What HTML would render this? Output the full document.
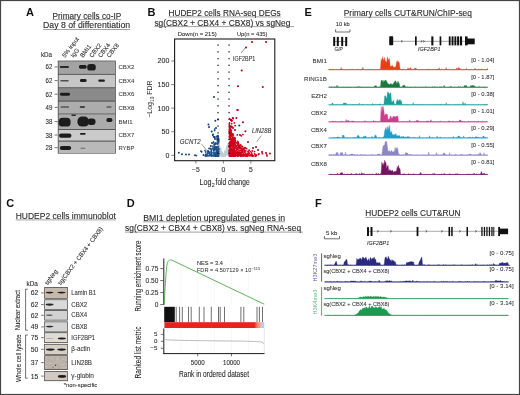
<!DOCTYPE html>
<html><head><meta charset="utf-8"><style>
html,body{margin:0;padding:0;background:#fff;}
#f{position:relative;width:520px;height:395px;overflow:hidden;background:#fff;}
svg{position:absolute;left:0;top:0;will-change:transform;}
text{font-family:"Liberation Sans",sans-serif;}
</style></head><body><div id="f">
<svg width="520" height="395" viewBox="0 0 520 395" font-family="Liberation Sans, sans-serif" fill="#2a2a2a">
<defs>
<filter id="bl" x="-50%" y="-50%" width="200%" height="200%"><feGaussianBlur stdDeviation="0.6"/></filter>
<filter id="bl2" x="-50%" y="-50%" width="200%" height="200%"><feGaussianBlur stdDeviation="0.35"/></filter>
</defs>
<rect x="0" y="0" width="520" height="395" fill="#fff"/>
<text x="26.00" y="16.00" font-size="11" font-weight="bold" fill="#111" >A</text>
<text x="52.60" y="18.50" font-size="8.2" textLength="68.60" lengthAdjust="spacingAndGlyphs" stroke="#2a2a2a" stroke-width="0.102" >Primary cells co-IP</text>
<line x1="52.60" y1="19.60" x2="121.20" y2="19.60" stroke="#555" stroke-width="0.55" />
<text x="43.00" y="28.40" font-size="8.2" textLength="87.10" lengthAdjust="spacingAndGlyphs" stroke="#2a2a2a" stroke-width="0.102" >Day 8 of differentiation</text>
<line x1="43.00" y1="29.50" x2="130.10" y2="29.50" stroke="#555" stroke-width="0.55" />
<text x="40.90" y="56.80" font-size="6.3" textLength="11.20" lengthAdjust="spacingAndGlyphs" stroke="#2a2a2a" stroke-width="0.079" >kDa</text>
<text x="65.00" y="58.00" font-size="6.1" stroke="#2a2a2a" stroke-width="0.076" transform="rotate(-53 65.00 58.00)" >5% input</text>
<text x="73.60" y="58.00" font-size="6.1" stroke="#2a2a2a" stroke-width="0.076" transform="rotate(-53 73.60 58.00)" >IgG</text>
<text x="82.90" y="58.00" font-size="6.1" stroke="#2a2a2a" stroke-width="0.076" transform="rotate(-53 82.90 58.00)" >BMI1</text>
<text x="92.20" y="58.00" font-size="6.1" stroke="#2a2a2a" stroke-width="0.076" transform="rotate(-53 92.20 58.00)" >CBX2</text>
<text x="100.90" y="58.00" font-size="6.1" stroke="#2a2a2a" stroke-width="0.076" transform="rotate(-53 100.90 58.00)" >CBX4</text>
<text x="109.60" y="58.00" font-size="6.1" stroke="#2a2a2a" stroke-width="0.076" transform="rotate(-53 109.60 58.00)" >CBX8</text>
<rect x="57.80" y="60.60" width="58.00" height="93.00" fill="#4c4c4c" />
<rect x="58.60" y="61.30" width="56.50" height="12.60" fill="#a3a3a3" />
<rect x="58.60" y="74.80" width="56.50" height="12.50" fill="#c6c6c6" />
<rect x="58.60" y="88.20" width="56.50" height="12.40" fill="#8a8a8a" />
<rect x="58.60" y="101.60" width="56.50" height="12.00" fill="#acacac" />
<rect x="58.60" y="114.30" width="56.50" height="14.80" fill="#ababab" />
<rect x="58.60" y="130.00" width="56.50" height="10.60" fill="#cacaca" />
<rect x="58.60" y="141.60" width="56.50" height="11.40" fill="#b9b9b9" />
<g filter="url(#bl)" fill="#1e1e1e">
<rect x="59.80" y="65.90" width="9.20" height="2.20" rx="0.99" opacity="0.9"/>
<rect x="78.90" y="65.10" width="7.80" height="3.60" rx="1.62" opacity="1"/>
<rect x="87.20" y="64.00" width="8.60" height="6.60" rx="2.97" opacity="1"/>
<rect x="60.30" y="80.00" width="8.40" height="1.40" rx="0.63" opacity="0.7"/>
<rect x="80.00" y="79.00" width="6.60" height="3.00" rx="1.35" opacity="1"/>
<rect x="98.30" y="79.40" width="6.60" height="2.40" rx="1.08" opacity="1"/>
<rect x="60.00" y="92.70" width="10.00" height="3.00" rx="1.35" opacity="1"/>
<rect x="60.60" y="106.40" width="8.40" height="1.20" rx="0.54" opacity="0.95"/>
<rect x="79.80" y="106.35" width="5.20" height="1.30" rx="0.59" opacity="0.95"/>
<rect x="106.50" y="106.40" width="5.00" height="1.20" rx="0.54" opacity="0.85"/>
<rect x="58.60" y="117.80" width="12.00" height="8.80" rx="3.96" opacity="1"/>
<rect x="71.40" y="114.40" width="4.60" height="1.60" rx="0.72" opacity="0.9"/>
<rect x="77.40" y="116.60" width="11.60" height="10.00" rx="4.50" opacity="1"/>
<rect x="87.50" y="118.60" width="8.00" height="6.40" rx="2.88" opacity="1"/>
<rect x="106.40" y="118.00" width="6.00" height="4.00" rx="1.80" opacity="1"/>
<rect x="59.00" y="133.40" width="12.40" height="4.40" rx="1.98" opacity="1"/>
<rect x="80.00" y="133.10" width="5.60" height="1.60" rx="0.72" opacity="1"/>
<rect x="59.90" y="146.00" width="11.20" height="4.00" rx="1.80" opacity="1"/>
<rect x="80.30" y="147.80" width="5.00" height="1.00" rx="0.45" opacity="0.5"/>
</g>
<text x="45.60" y="69.40" font-size="6.9" textLength="6.80" lengthAdjust="spacingAndGlyphs" stroke="#2a2a2a" stroke-width="0.086" >62</text>
<line x1="54.60" y1="66.90" x2="57.60" y2="66.90" stroke="#333" stroke-width="0.7" />
<text x="118.50" y="69.10" font-size="6.2" textLength="15.80" lengthAdjust="spacingAndGlyphs" fill="#3a3a3a" stroke="#3a3a3a" stroke-width="0.078" >CBX2</text>
<text x="45.60" y="83.10" font-size="6.9" textLength="6.80" lengthAdjust="spacingAndGlyphs" stroke="#2a2a2a" stroke-width="0.086" >62</text>
<line x1="54.60" y1="80.60" x2="57.60" y2="80.60" stroke="#333" stroke-width="0.7" />
<text x="118.50" y="82.80" font-size="6.2" textLength="15.80" lengthAdjust="spacingAndGlyphs" fill="#3a3a3a" stroke="#3a3a3a" stroke-width="0.078" >CBX4</text>
<text x="45.60" y="96.70" font-size="6.9" textLength="6.80" lengthAdjust="spacingAndGlyphs" stroke="#2a2a2a" stroke-width="0.086" >62</text>
<line x1="54.60" y1="94.20" x2="57.60" y2="94.20" stroke="#333" stroke-width="0.7" />
<text x="118.50" y="96.40" font-size="6.2" textLength="15.80" lengthAdjust="spacingAndGlyphs" fill="#3a3a3a" stroke="#3a3a3a" stroke-width="0.078" >CBX6</text>
<text x="45.60" y="109.90" font-size="6.9" textLength="6.80" lengthAdjust="spacingAndGlyphs" stroke="#2a2a2a" stroke-width="0.086" >49</text>
<line x1="54.60" y1="107.40" x2="57.60" y2="107.40" stroke="#333" stroke-width="0.7" />
<text x="118.50" y="109.60" font-size="6.2" textLength="15.80" lengthAdjust="spacingAndGlyphs" fill="#3a3a3a" stroke="#3a3a3a" stroke-width="0.078" >CBX8</text>
<text x="45.60" y="124.10" font-size="6.9" textLength="6.80" lengthAdjust="spacingAndGlyphs" stroke="#2a2a2a" stroke-width="0.086" >38</text>
<line x1="54.60" y1="121.60" x2="57.60" y2="121.60" stroke="#333" stroke-width="0.7" />
<text x="118.50" y="123.80" font-size="6.2" textLength="14.00" lengthAdjust="spacingAndGlyphs" fill="#3a3a3a" stroke="#3a3a3a" stroke-width="0.078" >BMI1</text>
<text x="45.60" y="137.50" font-size="6.9" textLength="6.80" lengthAdjust="spacingAndGlyphs" stroke="#2a2a2a" stroke-width="0.086" >38</text>
<line x1="54.60" y1="135.00" x2="57.60" y2="135.00" stroke="#333" stroke-width="0.7" />
<text x="118.50" y="137.20" font-size="6.2" textLength="15.80" lengthAdjust="spacingAndGlyphs" fill="#3a3a3a" stroke="#3a3a3a" stroke-width="0.078" >CBX7</text>
<text x="45.60" y="150.20" font-size="6.9" textLength="6.80" lengthAdjust="spacingAndGlyphs" stroke="#2a2a2a" stroke-width="0.086" >28</text>
<line x1="54.60" y1="147.70" x2="57.60" y2="147.70" stroke="#333" stroke-width="0.7" />
<text x="118.50" y="149.90" font-size="6.2" textLength="15.80" lengthAdjust="spacingAndGlyphs" fill="#3a3a3a" stroke="#3a3a3a" stroke-width="0.078" >RYBP</text>
<text x="147.40" y="15.80" font-size="11" font-weight="bold" fill="#111" >B</text>
<text x="168.50" y="15.80" font-size="8.2" textLength="112.20" lengthAdjust="spacingAndGlyphs" stroke="#2a2a2a" stroke-width="0.102" >HUDEP2 cells RNA-seq DEGs</text>
<line x1="168.50" y1="16.90" x2="280.70" y2="16.90" stroke="#555" stroke-width="0.55" />
<text x="154.40" y="25.50" font-size="8.2" textLength="136.00" lengthAdjust="spacingAndGlyphs" stroke="#2a2a2a" stroke-width="0.102" >sg(CBX2 + CBX4 + CBX8) vs sgNeg</text>
<line x1="154.40" y1="26.60" x2="294.00" y2="26.60" stroke="#555" stroke-width="0.55" />
<text x="177.70" y="36.00" font-size="6.2" textLength="39.00" lengthAdjust="spacingAndGlyphs" stroke="#2a2a2a" stroke-width="0.078" >Down(n = 215)</text>
<text x="236.90" y="36.00" font-size="6.2" textLength="30.60" lengthAdjust="spacingAndGlyphs" stroke="#2a2a2a" stroke-width="0.078" >Up(n = 435)</text>
<g>
<circle cx="221.6" cy="155.3" r="0.8" fill="#c2cdd6"/>
<circle cx="225.0" cy="155.7" r="0.8" fill="#c2cdd6"/>
<circle cx="223.8" cy="155.4" r="0.8" fill="#c2cdd6"/>
<circle cx="218.9" cy="150.0" r="0.8" fill="#c2cdd6"/>
<circle cx="218.7" cy="150.7" r="0.8" fill="#c2cdd6"/>
<circle cx="219.0" cy="155.0" r="0.8" fill="#c2cdd6"/>
<circle cx="222.7" cy="154.1" r="0.8" fill="#c2cdd6"/>
<circle cx="219.6" cy="153.8" r="0.8" fill="#c2cdd6"/>
<circle cx="224.8" cy="152.3" r="0.8" fill="#c2cdd6"/>
<circle cx="224.2" cy="155.0" r="0.8" fill="#c2cdd6"/>
<circle cx="228.4" cy="155.4" r="0.8" fill="#c2cdd6"/>
<circle cx="227.1" cy="153.1" r="0.8" fill="#c2cdd6"/>
<circle cx="219.8" cy="154.9" r="0.8" fill="#c2cdd6"/>
<circle cx="221.5" cy="151.7" r="0.8" fill="#c2cdd6"/>
<circle cx="220.2" cy="151.0" r="0.8" fill="#c2cdd6"/>
<circle cx="224.9" cy="154.4" r="0.8" fill="#c2cdd6"/>
<circle cx="223.9" cy="155.9" r="0.8" fill="#c2cdd6"/>
<circle cx="218.9" cy="153.6" r="0.8" fill="#c2cdd6"/>
<circle cx="225.3" cy="153.7" r="0.8" fill="#c2cdd6"/>
<circle cx="221.5" cy="153.0" r="0.8" fill="#c2cdd6"/>
<circle cx="223.0" cy="155.5" r="0.8" fill="#c2cdd6"/>
<circle cx="226.5" cy="150.3" r="0.8" fill="#c2cdd6"/>
<circle cx="220.8" cy="152.0" r="0.8" fill="#c2cdd6"/>
<circle cx="223.7" cy="154.9" r="0.8" fill="#c2cdd6"/>
<circle cx="225.8" cy="154.1" r="0.8" fill="#c2cdd6"/>
<circle cx="228.4" cy="154.5" r="0.8" fill="#c2cdd6"/>
<circle cx="222.6" cy="154.1" r="0.8" fill="#c2cdd6"/>
<circle cx="219.9" cy="151.4" r="0.8" fill="#c2cdd6"/>
<circle cx="218.7" cy="147.8" r="0.8" fill="#c2cdd6"/>
<circle cx="226.2" cy="151.7" r="0.8" fill="#c2cdd6"/>
<circle cx="227.3" cy="152.8" r="0.8" fill="#c2cdd6"/>
<circle cx="225.5" cy="152.6" r="0.8" fill="#c2cdd6"/>
<circle cx="224.3" cy="154.8" r="0.8" fill="#c2cdd6"/>
<circle cx="227.0" cy="147.1" r="0.8" fill="#c2cdd6"/>
<circle cx="223.2" cy="155.3" r="0.8" fill="#c2cdd6"/>
<circle cx="218.9" cy="147.8" r="0.8" fill="#c2cdd6"/>
<circle cx="225.0" cy="151.6" r="0.8" fill="#c2cdd6"/>
<circle cx="226.8" cy="153.5" r="0.8" fill="#c2cdd6"/>
<circle cx="222.3" cy="153.8" r="0.8" fill="#c2cdd6"/>
<circle cx="218.5" cy="150.2" r="0.8" fill="#c2cdd6"/>
<circle cx="220.0" cy="155.0" r="0.8" fill="#c2cdd6"/>
<circle cx="218.9" cy="147.0" r="0.8" fill="#c2cdd6"/>
<circle cx="219.6" cy="153.5" r="0.8" fill="#c2cdd6"/>
<circle cx="222.3" cy="153.2" r="0.8" fill="#c2cdd6"/>
<circle cx="219.1" cy="151.0" r="0.8" fill="#c2cdd6"/>
<circle cx="224.0" cy="154.3" r="0.8" fill="#c2cdd6"/>
<circle cx="226.7" cy="148.4" r="0.8" fill="#c2cdd6"/>
<circle cx="221.2" cy="153.5" r="0.8" fill="#c2cdd6"/>
<circle cx="222.0" cy="152.5" r="0.8" fill="#c2cdd6"/>
<circle cx="228.2" cy="154.1" r="0.8" fill="#c2cdd6"/>
<circle cx="220.1" cy="154.0" r="0.8" fill="#c2cdd6"/>
<circle cx="220.7" cy="152.5" r="0.8" fill="#c2cdd6"/>
<circle cx="224.4" cy="155.2" r="0.8" fill="#c2cdd6"/>
<circle cx="218.3" cy="150.5" r="0.8" fill="#c2cdd6"/>
<circle cx="222.1" cy="153.9" r="0.8" fill="#c2cdd6"/>
<circle cx="228.1" cy="147.5" r="0.8" fill="#c2cdd6"/>
<circle cx="223.6" cy="155.4" r="0.8" fill="#c2cdd6"/>
<circle cx="225.3" cy="155.7" r="0.8" fill="#c2cdd6"/>
<circle cx="227.6" cy="147.5" r="0.8" fill="#c2cdd6"/>
<circle cx="227.3" cy="147.8" r="0.8" fill="#c2cdd6"/>
<circle cx="222.3" cy="154.7" r="0.8" fill="#c2cdd6"/>
<circle cx="219.4" cy="149.3" r="0.8" fill="#c2cdd6"/>
<circle cx="218.9" cy="155.2" r="0.8" fill="#c2cdd6"/>
<circle cx="220.5" cy="154.7" r="0.8" fill="#c2cdd6"/>
<circle cx="221.8" cy="155.8" r="0.8" fill="#c2cdd6"/>
<circle cx="218.3" cy="154.0" r="0.8" fill="#c2cdd6"/>
<circle cx="219.3" cy="152.1" r="0.8" fill="#c2cdd6"/>
<circle cx="218.6" cy="145.0" r="0.8" fill="#c2cdd6"/>
<circle cx="224.6" cy="155.5" r="0.8" fill="#c2cdd6"/>
<circle cx="220.9" cy="153.7" r="0.8" fill="#c2cdd6"/>
<circle cx="222.1" cy="155.5" r="0.8" fill="#c2cdd6"/>
<circle cx="227.0" cy="146.5" r="0.8" fill="#c2cdd6"/>
<circle cx="223.1" cy="155.4" r="0.8" fill="#c2cdd6"/>
<circle cx="219.2" cy="154.9" r="0.8" fill="#c2cdd6"/>
<circle cx="221.8" cy="154.8" r="0.8" fill="#c2cdd6"/>
<circle cx="226.8" cy="154.5" r="0.8" fill="#c2cdd6"/>
<circle cx="218.5" cy="144.0" r="0.8" fill="#c2cdd6"/>
<circle cx="223.7" cy="155.8" r="0.8" fill="#c2cdd6"/>
<circle cx="223.9" cy="156.0" r="0.8" fill="#c2cdd6"/>
<circle cx="223.7" cy="154.7" r="0.8" fill="#c2cdd6"/>
<circle cx="227.2" cy="149.1" r="0.8" fill="#c2cdd6"/>
<circle cx="221.0" cy="153.6" r="0.8" fill="#c2cdd6"/>
<circle cx="220.0" cy="149.1" r="0.8" fill="#c2cdd6"/>
<circle cx="223.8" cy="154.9" r="0.8" fill="#c2cdd6"/>
<circle cx="221.7" cy="154.9" r="0.8" fill="#c2cdd6"/>
<circle cx="226.7" cy="147.5" r="0.8" fill="#c2cdd6"/>
<circle cx="227.1" cy="148.2" r="0.8" fill="#c2cdd6"/>
<circle cx="226.7" cy="149.5" r="0.8" fill="#c2cdd6"/>
<circle cx="220.6" cy="152.2" r="0.8" fill="#c2cdd6"/>
<circle cx="222.0" cy="155.9" r="0.8" fill="#c2cdd6"/>
<circle cx="218.6" cy="152.5" r="0.8" fill="#c2cdd6"/>
<circle cx="221.0" cy="151.4" r="0.8" fill="#c2cdd6"/>
<circle cx="228.2" cy="150.5" r="0.8" fill="#c2cdd6"/>
<circle cx="228.0" cy="144.3" r="0.8" fill="#c2cdd6"/>
<circle cx="228.1" cy="151.5" r="0.8" fill="#c2cdd6"/>
<circle cx="220.6" cy="154.3" r="0.8" fill="#c2cdd6"/>
<circle cx="220.3" cy="154.3" r="0.8" fill="#c2cdd6"/>
<circle cx="224.7" cy="152.6" r="0.8" fill="#c2cdd6"/>
<circle cx="227.0" cy="151.5" r="0.8" fill="#c2cdd6"/>
<circle cx="225.0" cy="152.4" r="0.8" fill="#c2cdd6"/>
<circle cx="219.2" cy="148.7" r="0.8" fill="#c2cdd6"/>
<circle cx="227.7" cy="147.3" r="0.8" fill="#c2cdd6"/>
<circle cx="226.0" cy="152.6" r="0.8" fill="#c2cdd6"/>
<circle cx="220.1" cy="149.2" r="0.8" fill="#c2cdd6"/>
<circle cx="221.7" cy="152.2" r="0.8" fill="#c2cdd6"/>
<circle cx="228.3" cy="150.9" r="0.8" fill="#c2cdd6"/>
<circle cx="222.4" cy="153.2" r="0.8" fill="#c2cdd6"/>
<circle cx="225.8" cy="154.9" r="0.8" fill="#c2cdd6"/>
<circle cx="219.6" cy="154.5" r="0.8" fill="#c2cdd6"/>
<circle cx="227.6" cy="147.1" r="0.8" fill="#c2cdd6"/>
<circle cx="219.8" cy="148.2" r="0.8" fill="#c2cdd6"/>
<circle cx="228.4" cy="147.5" r="0.8" fill="#c2cdd6"/>
<circle cx="221.9" cy="153.7" r="0.8" fill="#c2cdd6"/>
<circle cx="219.6" cy="155.9" r="0.8" fill="#c2cdd6"/>
<circle cx="228.3" cy="147.7" r="0.8" fill="#c2cdd6"/>
<circle cx="223.7" cy="154.8" r="0.8" fill="#c2cdd6"/>
<circle cx="222.8" cy="154.2" r="0.8" fill="#c2cdd6"/>
<circle cx="226.8" cy="154.1" r="0.8" fill="#c2cdd6"/>
<circle cx="220.9" cy="154.0" r="0.8" fill="#c2cdd6"/>
<circle cx="220.8" cy="151.9" r="0.8" fill="#c2cdd6"/>
<circle cx="221.0" cy="153.2" r="0.8" fill="#c2cdd6"/>
<circle cx="219.7" cy="147.0" r="0.8" fill="#c2cdd6"/>
<circle cx="221.9" cy="154.1" r="0.8" fill="#c2cdd6"/>
<circle cx="224.3" cy="153.5" r="0.8" fill="#c2cdd6"/>
<circle cx="222.6" cy="153.8" r="0.8" fill="#c2cdd6"/>
<circle cx="223.5" cy="155.6" r="0.8" fill="#c2cdd6"/>
<circle cx="223.7" cy="156.0" r="0.8" fill="#c2cdd6"/>
<circle cx="222.8" cy="155.6" r="0.8" fill="#c2cdd6"/>
<circle cx="218.3" cy="145.5" r="0.8" fill="#c2cdd6"/>
<circle cx="220.1" cy="151.8" r="0.8" fill="#c2cdd6"/>
<circle cx="225.8" cy="152.4" r="0.8" fill="#c2cdd6"/>
<circle cx="221.7" cy="153.5" r="0.8" fill="#c2cdd6"/>
<circle cx="224.0" cy="154.4" r="0.8" fill="#c2cdd6"/>
<circle cx="219.4" cy="150.1" r="0.8" fill="#c2cdd6"/>
<circle cx="220.9" cy="154.1" r="0.8" fill="#c2cdd6"/>
<circle cx="226.3" cy="152.1" r="0.8" fill="#c2cdd6"/>
<circle cx="224.1" cy="154.3" r="0.8" fill="#c2cdd6"/>
<circle cx="227.7" cy="151.0" r="0.8" fill="#c2cdd6"/>
<circle cx="224.6" cy="154.2" r="0.8" fill="#c2cdd6"/>
<circle cx="223.6" cy="155.4" r="0.8" fill="#c2cdd6"/>
<circle cx="223.0" cy="155.1" r="0.8" fill="#c2cdd6"/>
<circle cx="223.2" cy="155.1" r="0.8" fill="#c2cdd6"/>
<circle cx="225.5" cy="151.0" r="0.8" fill="#c2cdd6"/>
<circle cx="228.0" cy="152.9" r="0.8" fill="#c2cdd6"/>
<circle cx="224.1" cy="154.0" r="0.8" fill="#c2cdd6"/>
<circle cx="227.0" cy="154.7" r="0.8" fill="#c2cdd6"/>
<circle cx="219.6" cy="151.5" r="0.8" fill="#c2cdd6"/>
<circle cx="219.0" cy="153.3" r="0.8" fill="#c2cdd6"/>
<circle cx="219.1" cy="148.4" r="0.8" fill="#c2cdd6"/>
<circle cx="226.4" cy="148.9" r="0.8" fill="#c2cdd6"/>
<circle cx="219.9" cy="149.4" r="0.8" fill="#c2cdd6"/>
<circle cx="225.1" cy="155.3" r="0.8" fill="#c2cdd6"/>
<circle cx="227.4" cy="145.9" r="0.8" fill="#c2cdd6"/>
<circle cx="220.6" cy="148.8" r="0.8" fill="#c2cdd6"/>
<circle cx="222.4" cy="154.5" r="0.8" fill="#c2cdd6"/>
<circle cx="228.5" cy="145.0" r="0.8" fill="#c2cdd6"/>
<circle cx="220.0" cy="152.1" r="0.8" fill="#c2cdd6"/>
<circle cx="223.6" cy="155.7" r="0.8" fill="#c2cdd6"/>
<circle cx="220.3" cy="153.4" r="0.8" fill="#c2cdd6"/>
<circle cx="225.7" cy="155.9" r="0.8" fill="#c2cdd6"/>
<circle cx="224.0" cy="155.1" r="0.8" fill="#c2cdd6"/>
<circle cx="218.5" cy="151.8" r="0.8" fill="#c2cdd6"/>
<circle cx="224.7" cy="154.0" r="0.8" fill="#c2cdd6"/>
<circle cx="219.0" cy="144.6" r="0.8" fill="#c2cdd6"/>
<circle cx="226.4" cy="148.2" r="0.8" fill="#c2cdd6"/>
<circle cx="219.4" cy="153.2" r="0.8" fill="#c2cdd6"/>
<circle cx="218.7" cy="146.5" r="0.8" fill="#c2cdd6"/>
<circle cx="221.1" cy="155.2" r="0.8" fill="#c2cdd6"/>
<circle cx="222.6" cy="153.8" r="0.8" fill="#c2cdd6"/>
<circle cx="226.7" cy="153.7" r="0.8" fill="#c2cdd6"/>
<circle cx="219.8" cy="147.4" r="0.8" fill="#c2cdd6"/>
<circle cx="224.2" cy="154.3" r="0.8" fill="#c2cdd6"/>
<circle cx="219.2" cy="155.4" r="0.8" fill="#c2cdd6"/>
<circle cx="225.4" cy="153.7" r="0.8" fill="#c2cdd6"/>
<circle cx="219.0" cy="145.3" r="0.8" fill="#c2cdd6"/>
<circle cx="224.8" cy="152.7" r="0.8" fill="#c2cdd6"/>
<circle cx="219.2" cy="146.5" r="0.8" fill="#c2cdd6"/>
<circle cx="219.0" cy="146.0" r="0.8" fill="#c2cdd6"/>
<circle cx="223.0" cy="155.5" r="0.8" fill="#c2cdd6"/>
<circle cx="224.0" cy="154.2" r="0.8" fill="#c2cdd6"/>
<circle cx="221.1" cy="155.2" r="0.8" fill="#c2cdd6"/>
<circle cx="223.7" cy="155.7" r="0.8" fill="#c2cdd6"/>
<circle cx="219.4" cy="154.3" r="0.8" fill="#c2cdd6"/>
<circle cx="218.8" cy="153.6" r="0.8" fill="#c2cdd6"/>
<circle cx="221.5" cy="154.4" r="0.8" fill="#c2cdd6"/>
<circle cx="226.1" cy="153.9" r="0.8" fill="#c2cdd6"/>
<circle cx="223.5" cy="155.9" r="0.8" fill="#c2cdd6"/>
<circle cx="221.9" cy="155.9" r="0.8" fill="#c2cdd6"/>
<circle cx="220.9" cy="155.9" r="0.8" fill="#c2cdd6"/>
<circle cx="225.9" cy="152.3" r="0.8" fill="#c2cdd6"/>
<circle cx="220.3" cy="152.0" r="0.8" fill="#c2cdd6"/>
<circle cx="227.9" cy="154.7" r="0.8" fill="#c2cdd6"/>
<circle cx="226.7" cy="152.2" r="0.8" fill="#c2cdd6"/>
<circle cx="223.4" cy="155.6" r="0.8" fill="#c2cdd6"/>
<circle cx="222.3" cy="154.4" r="0.8" fill="#c2cdd6"/>
<circle cx="225.4" cy="150.6" r="0.8" fill="#c2cdd6"/>
<circle cx="221.8" cy="152.3" r="0.8" fill="#c2cdd6"/>
<circle cx="225.6" cy="152.2" r="0.8" fill="#c2cdd6"/>
<circle cx="222.5" cy="155.0" r="0.8" fill="#c2cdd6"/>
<circle cx="218.9" cy="154.5" r="0.8" fill="#c2cdd6"/>
<circle cx="219.0" cy="147.5" r="0.8" fill="#c2cdd6"/>
<circle cx="220.9" cy="154.9" r="0.8" fill="#c2cdd6"/>
<circle cx="219.2" cy="146.7" r="0.8" fill="#c2cdd6"/>
<circle cx="227.3" cy="149.2" r="0.8" fill="#c2cdd6"/>
<circle cx="221.2" cy="154.5" r="0.8" fill="#c2cdd6"/>
<circle cx="221.3" cy="153.4" r="0.8" fill="#c2cdd6"/>
<circle cx="219.9" cy="151.9" r="0.8" fill="#c2cdd6"/>
<circle cx="221.0" cy="149.8" r="0.8" fill="#c2cdd6"/>
<circle cx="228.3" cy="149.0" r="0.8" fill="#c2cdd6"/>
<circle cx="220.8" cy="149.3" r="0.8" fill="#c2cdd6"/>
<circle cx="221.5" cy="154.1" r="0.8" fill="#c2cdd6"/>
<circle cx="218.3" cy="151.0" r="0.8" fill="#c2cdd6"/>
<circle cx="223.2" cy="155.5" r="0.8" fill="#c2cdd6"/>
<circle cx="220.4" cy="151.9" r="0.8" fill="#c2cdd6"/>
<circle cx="218.4" cy="152.5" r="0.8" fill="#c2cdd6"/>
<circle cx="219.2" cy="151.6" r="0.8" fill="#c2cdd6"/>
<circle cx="218.7" cy="155.7" r="0.8" fill="#c2cdd6"/>
<circle cx="221.4" cy="154.7" r="0.8" fill="#c2cdd6"/>
<circle cx="224.3" cy="154.5" r="0.8" fill="#c2cdd6"/>
<circle cx="226.0" cy="151.3" r="0.8" fill="#c2cdd6"/>
<circle cx="214.5" cy="145.7" r="0.9" fill="#1c4f8c"/>
<circle cx="217.1" cy="153.2" r="0.9" fill="#1c4f8c"/>
<circle cx="205.8" cy="155.8" r="0.9" fill="#1c4f8c"/>
<circle cx="214.4" cy="150.0" r="0.9" fill="#1c4f8c"/>
<circle cx="218.6" cy="138.7" r="0.9" fill="#1c4f8c"/>
<circle cx="211.2" cy="152.3" r="0.9" fill="#1c4f8c"/>
<circle cx="214.3" cy="147.3" r="0.9" fill="#1c4f8c"/>
<circle cx="218.3" cy="148.6" r="0.9" fill="#1c4f8c"/>
<circle cx="216.4" cy="143.7" r="0.9" fill="#1c4f8c"/>
<circle cx="213.2" cy="148.2" r="0.9" fill="#1c4f8c"/>
<circle cx="215.8" cy="143.3" r="0.9" fill="#1c4f8c"/>
<circle cx="214.9" cy="148.8" r="0.9" fill="#1c4f8c"/>
<circle cx="217.9" cy="155.9" r="0.9" fill="#1c4f8c"/>
<circle cx="218.3" cy="152.1" r="0.9" fill="#1c4f8c"/>
<circle cx="218.4" cy="139.3" r="0.9" fill="#1c4f8c"/>
<circle cx="216.0" cy="148.8" r="0.9" fill="#1c4f8c"/>
<circle cx="215.5" cy="148.4" r="0.9" fill="#1c4f8c"/>
<circle cx="216.5" cy="156.0" r="0.9" fill="#1c4f8c"/>
<circle cx="213.4" cy="149.3" r="0.9" fill="#1c4f8c"/>
<circle cx="216.4" cy="150.2" r="0.9" fill="#1c4f8c"/>
<circle cx="215.1" cy="155.9" r="0.9" fill="#1c4f8c"/>
<circle cx="214.3" cy="154.8" r="0.9" fill="#1c4f8c"/>
<circle cx="218.5" cy="153.6" r="0.9" fill="#1c4f8c"/>
<circle cx="214.4" cy="155.2" r="0.9" fill="#1c4f8c"/>
<circle cx="214.2" cy="144.2" r="0.9" fill="#1c4f8c"/>
<circle cx="216.5" cy="152.7" r="0.9" fill="#1c4f8c"/>
<circle cx="216.6" cy="147.0" r="0.9" fill="#1c4f8c"/>
<circle cx="213.8" cy="150.9" r="0.9" fill="#1c4f8c"/>
<circle cx="215.3" cy="155.8" r="0.9" fill="#1c4f8c"/>
<circle cx="218.3" cy="153.9" r="0.9" fill="#1c4f8c"/>
<circle cx="214.2" cy="154.4" r="0.9" fill="#1c4f8c"/>
<circle cx="215.9" cy="156.0" r="0.9" fill="#1c4f8c"/>
<circle cx="218.6" cy="153.5" r="0.9" fill="#1c4f8c"/>
<circle cx="215.0" cy="148.7" r="0.9" fill="#1c4f8c"/>
<circle cx="215.0" cy="154.3" r="0.9" fill="#1c4f8c"/>
<circle cx="216.3" cy="151.5" r="0.9" fill="#1c4f8c"/>
<circle cx="216.7" cy="155.5" r="0.9" fill="#1c4f8c"/>
<circle cx="211.2" cy="155.5" r="0.9" fill="#1c4f8c"/>
<circle cx="205.8" cy="152.0" r="0.9" fill="#1c4f8c"/>
<circle cx="218.7" cy="149.7" r="0.9" fill="#1c4f8c"/>
<circle cx="213.0" cy="146.2" r="0.9" fill="#1c4f8c"/>
<circle cx="216.8" cy="154.1" r="0.9" fill="#1c4f8c"/>
<circle cx="218.0" cy="136.7" r="0.9" fill="#1c4f8c"/>
<circle cx="218.0" cy="147.6" r="0.9" fill="#1c4f8c"/>
<circle cx="218.3" cy="148.6" r="0.9" fill="#1c4f8c"/>
<circle cx="208.4" cy="155.8" r="0.9" fill="#1c4f8c"/>
<circle cx="213.0" cy="152.7" r="0.9" fill="#1c4f8c"/>
<circle cx="211.4" cy="151.4" r="0.9" fill="#1c4f8c"/>
<circle cx="217.9" cy="138.6" r="0.9" fill="#1c4f8c"/>
<circle cx="216.5" cy="156.0" r="0.9" fill="#1c4f8c"/>
<circle cx="218.8" cy="148.8" r="0.9" fill="#1c4f8c"/>
<circle cx="216.8" cy="153.7" r="0.9" fill="#1c4f8c"/>
<circle cx="218.3" cy="152.4" r="0.9" fill="#1c4f8c"/>
<circle cx="217.5" cy="141.3" r="0.9" fill="#1c4f8c"/>
<circle cx="218.8" cy="141.3" r="0.9" fill="#1c4f8c"/>
<circle cx="212.6" cy="155.7" r="0.9" fill="#1c4f8c"/>
<circle cx="209.9" cy="152.1" r="0.9" fill="#1c4f8c"/>
<circle cx="210.9" cy="155.0" r="0.9" fill="#1c4f8c"/>
<circle cx="217.2" cy="152.1" r="0.9" fill="#1c4f8c"/>
<circle cx="205.8" cy="154.2" r="0.9" fill="#1c4f8c"/>
<circle cx="217.3" cy="151.5" r="0.9" fill="#1c4f8c"/>
<circle cx="217.7" cy="155.9" r="0.9" fill="#1c4f8c"/>
<circle cx="218.4" cy="139.3" r="0.9" fill="#1c4f8c"/>
<circle cx="217.7" cy="138.0" r="0.9" fill="#1c4f8c"/>
<circle cx="217.8" cy="153.8" r="0.9" fill="#1c4f8c"/>
<circle cx="216.4" cy="155.0" r="0.9" fill="#1c4f8c"/>
<circle cx="217.2" cy="138.5" r="0.9" fill="#1c4f8c"/>
<circle cx="211.5" cy="150.0" r="0.9" fill="#1c4f8c"/>
<circle cx="215.4" cy="143.6" r="0.9" fill="#1c4f8c"/>
<circle cx="209.2" cy="153.7" r="0.9" fill="#1c4f8c"/>
<circle cx="214.5" cy="155.9" r="0.9" fill="#1c4f8c"/>
<circle cx="214.3" cy="152.8" r="0.9" fill="#1c4f8c"/>
<circle cx="214.1" cy="150.3" r="0.9" fill="#1c4f8c"/>
<circle cx="217.7" cy="155.9" r="0.9" fill="#1c4f8c"/>
<circle cx="209.9" cy="155.8" r="0.9" fill="#1c4f8c"/>
<circle cx="216.6" cy="153.2" r="0.9" fill="#1c4f8c"/>
<circle cx="217.6" cy="144.0" r="0.9" fill="#1c4f8c"/>
<circle cx="206.1" cy="155.5" r="0.9" fill="#1c4f8c"/>
<circle cx="215.2" cy="154.2" r="0.9" fill="#1c4f8c"/>
<circle cx="216.0" cy="152.7" r="0.9" fill="#1c4f8c"/>
<circle cx="218.2" cy="155.0" r="0.9" fill="#1c4f8c"/>
<circle cx="218.0" cy="138.0" r="0.9" fill="#1c4f8c"/>
<circle cx="216.5" cy="154.7" r="0.9" fill="#1c4f8c"/>
<circle cx="210.8" cy="148.3" r="0.9" fill="#1c4f8c"/>
<circle cx="216.8" cy="155.4" r="0.9" fill="#1c4f8c"/>
<circle cx="218.1" cy="155.6" r="0.9" fill="#1c4f8c"/>
<circle cx="217.4" cy="155.7" r="0.9" fill="#1c4f8c"/>
<circle cx="217.9" cy="153.9" r="0.9" fill="#1c4f8c"/>
<circle cx="215.9" cy="143.2" r="0.9" fill="#1c4f8c"/>
<circle cx="214.1" cy="153.3" r="0.9" fill="#1c4f8c"/>
<circle cx="217.0" cy="149.9" r="0.9" fill="#1c4f8c"/>
<circle cx="217.2" cy="153.0" r="0.9" fill="#1c4f8c"/>
<circle cx="218.6" cy="153.4" r="0.9" fill="#1c4f8c"/>
<circle cx="207.1" cy="155.8" r="0.9" fill="#1c4f8c"/>
<circle cx="216.4" cy="148.3" r="0.9" fill="#1c4f8c"/>
<circle cx="212.0" cy="155.3" r="0.9" fill="#1c4f8c"/>
<circle cx="217.7" cy="154.1" r="0.9" fill="#1c4f8c"/>
<circle cx="217.1" cy="151.3" r="0.9" fill="#1c4f8c"/>
<circle cx="208.3" cy="151.6" r="0.9" fill="#1c4f8c"/>
<circle cx="211.8" cy="156.0" r="0.9" fill="#1c4f8c"/>
<circle cx="218.7" cy="142.8" r="0.9" fill="#1c4f8c"/>
<circle cx="211.1" cy="153.7" r="0.9" fill="#1c4f8c"/>
<circle cx="215.8" cy="156.0" r="0.9" fill="#1c4f8c"/>
<circle cx="217.1" cy="139.7" r="0.9" fill="#1c4f8c"/>
<circle cx="212.9" cy="148.2" r="0.9" fill="#1c4f8c"/>
<circle cx="206.6" cy="155.5" r="0.9" fill="#1c4f8c"/>
<circle cx="218.4" cy="155.1" r="0.9" fill="#1c4f8c"/>
<circle cx="216.3" cy="147.4" r="0.9" fill="#1c4f8c"/>
<circle cx="209.1" cy="152.3" r="0.9" fill="#1c4f8c"/>
<circle cx="215.3" cy="147.0" r="0.9" fill="#1c4f8c"/>
<circle cx="216.7" cy="149.6" r="0.9" fill="#1c4f8c"/>
<circle cx="218.7" cy="140.5" r="0.9" fill="#1c4f8c"/>
<circle cx="217.9" cy="137.8" r="0.9" fill="#1c4f8c"/>
<circle cx="215.3" cy="154.1" r="0.9" fill="#1c4f8c"/>
<circle cx="218.3" cy="153.9" r="0.9" fill="#1c4f8c"/>
<circle cx="215.4" cy="148.2" r="0.9" fill="#1c4f8c"/>
<circle cx="218.4" cy="155.8" r="0.9" fill="#1c4f8c"/>
<circle cx="216.3" cy="149.4" r="0.9" fill="#1c4f8c"/>
<circle cx="217.1" cy="154.5" r="0.9" fill="#1c4f8c"/>
<circle cx="215.7" cy="156.0" r="0.9" fill="#1c4f8c"/>
<circle cx="217.6" cy="150.7" r="0.9" fill="#1c4f8c"/>
<circle cx="207.9" cy="153.3" r="0.9" fill="#1c4f8c"/>
<circle cx="211.5" cy="153.6" r="0.9" fill="#1c4f8c"/>
<circle cx="217.9" cy="154.1" r="0.9" fill="#1c4f8c"/>
<circle cx="207.8" cy="153.0" r="0.9" fill="#1c4f8c"/>
<circle cx="217.6" cy="156.0" r="0.9" fill="#1c4f8c"/>
<circle cx="216.5" cy="147.4" r="0.9" fill="#1c4f8c"/>
<circle cx="216.9" cy="154.2" r="0.9" fill="#1c4f8c"/>
<circle cx="215.1" cy="143.9" r="0.9" fill="#1c4f8c"/>
<circle cx="217.9" cy="155.9" r="0.9" fill="#1c4f8c"/>
<circle cx="217.4" cy="151.5" r="0.9" fill="#1c4f8c"/>
<circle cx="214.9" cy="155.1" r="0.9" fill="#1c4f8c"/>
<circle cx="213.4" cy="149.5" r="0.9" fill="#1c4f8c"/>
<circle cx="216.4" cy="154.9" r="0.9" fill="#1c4f8c"/>
<circle cx="206.9" cy="155.3" r="0.9" fill="#1c4f8c"/>
<circle cx="213.0" cy="155.1" r="0.9" fill="#1c4f8c"/>
<circle cx="217.9" cy="142.8" r="0.9" fill="#1c4f8c"/>
<circle cx="217.6" cy="137.6" r="0.9" fill="#1c4f8c"/>
<circle cx="216.5" cy="155.0" r="0.9" fill="#1c4f8c"/>
<circle cx="217.9" cy="151.2" r="0.9" fill="#1c4f8c"/>
<circle cx="215.1" cy="143.4" r="0.9" fill="#1c4f8c"/>
<circle cx="218.3" cy="151.5" r="0.9" fill="#1c4f8c"/>
<circle cx="218.0" cy="135.7" r="0.9" fill="#1c4f8c"/>
<circle cx="218.3" cy="155.9" r="0.9" fill="#1c4f8c"/>
<circle cx="218.6" cy="151.2" r="0.9" fill="#1c4f8c"/>
<circle cx="211.0" cy="149.5" r="0.9" fill="#1c4f8c"/>
<circle cx="214.3" cy="143.6" r="0.9" fill="#1c4f8c"/>
<circle cx="209.7" cy="155.0" r="0.9" fill="#1c4f8c"/>
<circle cx="218.1" cy="136.7" r="0.9" fill="#1c4f8c"/>
<circle cx="214.1" cy="156.0" r="0.9" fill="#1c4f8c"/>
<circle cx="216.5" cy="136.7" r="0.9" fill="#1c4f8c"/>
<circle cx="214.7" cy="137.4" r="0.9" fill="#1c4f8c"/>
<circle cx="213.5" cy="142.0" r="0.9" fill="#1c4f8c"/>
<circle cx="214.2" cy="137.1" r="0.9" fill="#1c4f8c"/>
<circle cx="218.2" cy="140.3" r="0.9" fill="#1c4f8c"/>
<circle cx="218.3" cy="139.1" r="0.9" fill="#1c4f8c"/>
<circle cx="214.6" cy="130.5" r="0.9" fill="#1c4f8c"/>
<circle cx="217.4" cy="135.9" r="0.9" fill="#1c4f8c"/>
<circle cx="212.8" cy="135.4" r="0.9" fill="#1c4f8c"/>
<circle cx="214.7" cy="129.1" r="0.9" fill="#1c4f8c"/>
<circle cx="213.7" cy="136.9" r="0.9" fill="#1c4f8c"/>
<circle cx="217.9" cy="141.6" r="0.9" fill="#1c4f8c"/>
<circle cx="200.9" cy="151.1" r="0.9" fill="#1c4f8c"/>
<circle cx="205.2" cy="155.8" r="0.9" fill="#1c4f8c"/>
<circle cx="196.4" cy="155.6" r="0.9" fill="#1c4f8c"/>
<circle cx="207.0" cy="154.5" r="0.9" fill="#1c4f8c"/>
<circle cx="205.0" cy="150.6" r="0.9" fill="#1c4f8c"/>
<circle cx="232.7" cy="153.8" r="0.9" fill="#d0021b"/>
<circle cx="254.7" cy="154.0" r="0.9" fill="#d0021b"/>
<circle cx="231.8" cy="142.6" r="0.9" fill="#d0021b"/>
<circle cx="232.4" cy="153.7" r="0.9" fill="#d0021b"/>
<circle cx="229.4" cy="137.6" r="0.9" fill="#d0021b"/>
<circle cx="249.3" cy="153.2" r="0.9" fill="#d0021b"/>
<circle cx="252.4" cy="156.0" r="0.9" fill="#d0021b"/>
<circle cx="231.5" cy="149.4" r="0.9" fill="#d0021b"/>
<circle cx="254.5" cy="151.6" r="0.9" fill="#d0021b"/>
<circle cx="233.3" cy="154.2" r="0.9" fill="#d0021b"/>
<circle cx="233.9" cy="150.3" r="0.9" fill="#d0021b"/>
<circle cx="250.5" cy="155.7" r="0.9" fill="#d0021b"/>
<circle cx="242.4" cy="150.1" r="0.9" fill="#d0021b"/>
<circle cx="243.2" cy="150.0" r="0.9" fill="#d0021b"/>
<circle cx="236.9" cy="153.9" r="0.9" fill="#d0021b"/>
<circle cx="232.5" cy="152.3" r="0.9" fill="#d0021b"/>
<circle cx="241.6" cy="155.9" r="0.9" fill="#d0021b"/>
<circle cx="231.2" cy="140.4" r="0.9" fill="#d0021b"/>
<circle cx="231.7" cy="155.8" r="0.9" fill="#d0021b"/>
<circle cx="229.7" cy="145.8" r="0.9" fill="#d0021b"/>
<circle cx="232.6" cy="133.9" r="0.9" fill="#d0021b"/>
<circle cx="246.6" cy="148.6" r="0.9" fill="#d0021b"/>
<circle cx="231.9" cy="155.7" r="0.9" fill="#d0021b"/>
<circle cx="230.2" cy="147.9" r="0.9" fill="#d0021b"/>
<circle cx="239.3" cy="153.0" r="0.9" fill="#d0021b"/>
<circle cx="231.5" cy="150.8" r="0.9" fill="#d0021b"/>
<circle cx="237.1" cy="148.4" r="0.9" fill="#d0021b"/>
<circle cx="240.4" cy="147.3" r="0.9" fill="#d0021b"/>
<circle cx="238.1" cy="155.7" r="0.9" fill="#d0021b"/>
<circle cx="244.1" cy="155.0" r="0.9" fill="#d0021b"/>
<circle cx="236.1" cy="153.1" r="0.9" fill="#d0021b"/>
<circle cx="240.1" cy="155.3" r="0.9" fill="#d0021b"/>
<circle cx="231.7" cy="154.0" r="0.9" fill="#d0021b"/>
<circle cx="230.7" cy="134.4" r="0.9" fill="#d0021b"/>
<circle cx="236.3" cy="153.8" r="0.9" fill="#d0021b"/>
<circle cx="233.4" cy="135.1" r="0.9" fill="#d0021b"/>
<circle cx="235.1" cy="154.7" r="0.9" fill="#d0021b"/>
<circle cx="242.6" cy="151.4" r="0.9" fill="#d0021b"/>
<circle cx="267.0" cy="155.9" r="0.9" fill="#d0021b"/>
<circle cx="234.6" cy="142.6" r="0.9" fill="#d0021b"/>
<circle cx="244.1" cy="148.4" r="0.9" fill="#d0021b"/>
<circle cx="229.7" cy="152.7" r="0.9" fill="#d0021b"/>
<circle cx="230.4" cy="154.6" r="0.9" fill="#d0021b"/>
<circle cx="258.3" cy="154.5" r="0.9" fill="#d0021b"/>
<circle cx="250.7" cy="155.0" r="0.9" fill="#d0021b"/>
<circle cx="245.5" cy="154.1" r="0.9" fill="#d0021b"/>
<circle cx="231.8" cy="140.4" r="0.9" fill="#d0021b"/>
<circle cx="252.7" cy="155.9" r="0.9" fill="#d0021b"/>
<circle cx="236.7" cy="149.2" r="0.9" fill="#d0021b"/>
<circle cx="231.4" cy="151.8" r="0.9" fill="#d0021b"/>
<circle cx="230.6" cy="154.4" r="0.9" fill="#d0021b"/>
<circle cx="231.8" cy="146.2" r="0.9" fill="#d0021b"/>
<circle cx="237.8" cy="155.2" r="0.9" fill="#d0021b"/>
<circle cx="229.5" cy="152.0" r="0.9" fill="#d0021b"/>
<circle cx="238.5" cy="155.3" r="0.9" fill="#d0021b"/>
<circle cx="232.4" cy="154.7" r="0.9" fill="#d0021b"/>
<circle cx="242.1" cy="152.5" r="0.9" fill="#d0021b"/>
<circle cx="229.9" cy="155.5" r="0.9" fill="#d0021b"/>
<circle cx="233.4" cy="148.8" r="0.9" fill="#d0021b"/>
<circle cx="237.6" cy="155.8" r="0.9" fill="#d0021b"/>
<circle cx="230.8" cy="142.1" r="0.9" fill="#d0021b"/>
<circle cx="233.6" cy="153.8" r="0.9" fill="#d0021b"/>
<circle cx="232.3" cy="134.6" r="0.9" fill="#d0021b"/>
<circle cx="232.4" cy="147.6" r="0.9" fill="#d0021b"/>
<circle cx="232.9" cy="151.4" r="0.9" fill="#d0021b"/>
<circle cx="245.4" cy="147.9" r="0.9" fill="#d0021b"/>
<circle cx="233.0" cy="154.8" r="0.9" fill="#d0021b"/>
<circle cx="239.8" cy="155.3" r="0.9" fill="#d0021b"/>
<circle cx="229.4" cy="130.8" r="0.9" fill="#d0021b"/>
<circle cx="233.8" cy="141.6" r="0.9" fill="#d0021b"/>
<circle cx="233.6" cy="139.3" r="0.9" fill="#d0021b"/>
<circle cx="234.3" cy="155.3" r="0.9" fill="#d0021b"/>
<circle cx="229.5" cy="145.7" r="0.9" fill="#d0021b"/>
<circle cx="237.6" cy="143.5" r="0.9" fill="#d0021b"/>
<circle cx="230.1" cy="143.9" r="0.9" fill="#d0021b"/>
<circle cx="233.1" cy="149.6" r="0.9" fill="#d0021b"/>
<circle cx="230.7" cy="153.2" r="0.9" fill="#d0021b"/>
<circle cx="235.3" cy="140.3" r="0.9" fill="#d0021b"/>
<circle cx="230.3" cy="148.2" r="0.9" fill="#d0021b"/>
<circle cx="242.5" cy="146.5" r="0.9" fill="#d0021b"/>
<circle cx="231.2" cy="155.4" r="0.9" fill="#d0021b"/>
<circle cx="252.3" cy="150.9" r="0.9" fill="#d0021b"/>
<circle cx="234.7" cy="155.9" r="0.9" fill="#d0021b"/>
<circle cx="250.2" cy="154.9" r="0.9" fill="#d0021b"/>
<circle cx="248.2" cy="153.1" r="0.9" fill="#d0021b"/>
<circle cx="243.3" cy="155.6" r="0.9" fill="#d0021b"/>
<circle cx="241.7" cy="155.3" r="0.9" fill="#d0021b"/>
<circle cx="233.5" cy="140.5" r="0.9" fill="#d0021b"/>
<circle cx="243.5" cy="155.6" r="0.9" fill="#d0021b"/>
<circle cx="231.4" cy="151.1" r="0.9" fill="#d0021b"/>
<circle cx="235.2" cy="152.8" r="0.9" fill="#d0021b"/>
<circle cx="230.5" cy="153.8" r="0.9" fill="#d0021b"/>
<circle cx="239.7" cy="145.7" r="0.9" fill="#d0021b"/>
<circle cx="229.7" cy="145.5" r="0.9" fill="#d0021b"/>
<circle cx="240.7" cy="156.0" r="0.9" fill="#d0021b"/>
<circle cx="244.0" cy="155.8" r="0.9" fill="#d0021b"/>
<circle cx="236.7" cy="150.6" r="0.9" fill="#d0021b"/>
<circle cx="237.3" cy="154.2" r="0.9" fill="#d0021b"/>
<circle cx="233.8" cy="148.2" r="0.9" fill="#d0021b"/>
<circle cx="233.8" cy="146.3" r="0.9" fill="#d0021b"/>
<circle cx="234.1" cy="151.5" r="0.9" fill="#d0021b"/>
<circle cx="229.6" cy="143.4" r="0.9" fill="#d0021b"/>
<circle cx="234.8" cy="154.6" r="0.9" fill="#d0021b"/>
<circle cx="240.9" cy="148.8" r="0.9" fill="#d0021b"/>
<circle cx="234.3" cy="155.1" r="0.9" fill="#d0021b"/>
<circle cx="234.5" cy="155.7" r="0.9" fill="#d0021b"/>
<circle cx="230.5" cy="149.9" r="0.9" fill="#d0021b"/>
<circle cx="230.2" cy="149.5" r="0.9" fill="#d0021b"/>
<circle cx="235.1" cy="155.9" r="0.9" fill="#d0021b"/>
<circle cx="237.5" cy="155.8" r="0.9" fill="#d0021b"/>
<circle cx="240.0" cy="148.2" r="0.9" fill="#d0021b"/>
<circle cx="235.1" cy="155.9" r="0.9" fill="#d0021b"/>
<circle cx="235.0" cy="152.8" r="0.9" fill="#d0021b"/>
<circle cx="253.5" cy="155.9" r="0.9" fill="#d0021b"/>
<circle cx="245.0" cy="147.7" r="0.9" fill="#d0021b"/>
<circle cx="239.9" cy="147.5" r="0.9" fill="#d0021b"/>
<circle cx="231.1" cy="130.8" r="0.9" fill="#d0021b"/>
<circle cx="234.8" cy="138.7" r="0.9" fill="#d0021b"/>
<circle cx="249.2" cy="155.8" r="0.9" fill="#d0021b"/>
<circle cx="241.8" cy="146.7" r="0.9" fill="#d0021b"/>
<circle cx="229.9" cy="151.6" r="0.9" fill="#d0021b"/>
<circle cx="240.7" cy="155.6" r="0.9" fill="#d0021b"/>
<circle cx="247.5" cy="155.3" r="0.9" fill="#d0021b"/>
<circle cx="242.9" cy="155.7" r="0.9" fill="#d0021b"/>
<circle cx="235.0" cy="140.1" r="0.9" fill="#d0021b"/>
<circle cx="231.3" cy="153.7" r="0.9" fill="#d0021b"/>
<circle cx="235.0" cy="153.6" r="0.9" fill="#d0021b"/>
<circle cx="229.7" cy="154.6" r="0.9" fill="#d0021b"/>
<circle cx="230.8" cy="132.2" r="0.9" fill="#d0021b"/>
<circle cx="238.5" cy="144.7" r="0.9" fill="#d0021b"/>
<circle cx="230.9" cy="138.8" r="0.9" fill="#d0021b"/>
<circle cx="230.4" cy="147.1" r="0.9" fill="#d0021b"/>
<circle cx="237.5" cy="153.6" r="0.9" fill="#d0021b"/>
<circle cx="245.9" cy="153.3" r="0.9" fill="#d0021b"/>
<circle cx="236.3" cy="142.8" r="0.9" fill="#d0021b"/>
<circle cx="230.3" cy="128.2" r="0.9" fill="#d0021b"/>
<circle cx="237.3" cy="153.2" r="0.9" fill="#d0021b"/>
<circle cx="242.2" cy="155.1" r="0.9" fill="#d0021b"/>
<circle cx="266.7" cy="154.8" r="0.9" fill="#d0021b"/>
<circle cx="233.0" cy="142.4" r="0.9" fill="#d0021b"/>
<circle cx="234.1" cy="155.1" r="0.9" fill="#d0021b"/>
<circle cx="240.3" cy="155.9" r="0.9" fill="#d0021b"/>
<circle cx="243.1" cy="155.2" r="0.9" fill="#d0021b"/>
<circle cx="237.6" cy="141.5" r="0.9" fill="#d0021b"/>
<circle cx="236.5" cy="148.2" r="0.9" fill="#d0021b"/>
<circle cx="232.4" cy="156.0" r="0.9" fill="#d0021b"/>
<circle cx="229.7" cy="155.0" r="0.9" fill="#d0021b"/>
<circle cx="237.1" cy="152.6" r="0.9" fill="#d0021b"/>
<circle cx="235.2" cy="141.0" r="0.9" fill="#d0021b"/>
<circle cx="230.5" cy="154.1" r="0.9" fill="#d0021b"/>
<circle cx="237.9" cy="156.0" r="0.9" fill="#d0021b"/>
<circle cx="229.4" cy="151.3" r="0.9" fill="#d0021b"/>
<circle cx="230.3" cy="151.6" r="0.9" fill="#d0021b"/>
<circle cx="231.4" cy="146.4" r="0.9" fill="#d0021b"/>
<circle cx="236.5" cy="155.1" r="0.9" fill="#d0021b"/>
<circle cx="237.2" cy="152.0" r="0.9" fill="#d0021b"/>
<circle cx="230.6" cy="131.6" r="0.9" fill="#d0021b"/>
<circle cx="231.6" cy="155.2" r="0.9" fill="#d0021b"/>
<circle cx="230.2" cy="143.4" r="0.9" fill="#d0021b"/>
<circle cx="245.8" cy="150.9" r="0.9" fill="#d0021b"/>
<circle cx="233.5" cy="154.1" r="0.9" fill="#d0021b"/>
<circle cx="229.5" cy="142.3" r="0.9" fill="#d0021b"/>
<circle cx="236.0" cy="153.4" r="0.9" fill="#d0021b"/>
<circle cx="237.7" cy="152.6" r="0.9" fill="#d0021b"/>
<circle cx="251.5" cy="152.8" r="0.9" fill="#d0021b"/>
<circle cx="231.7" cy="135.4" r="0.9" fill="#d0021b"/>
<circle cx="229.8" cy="146.5" r="0.9" fill="#d0021b"/>
<circle cx="233.6" cy="154.4" r="0.9" fill="#d0021b"/>
<circle cx="229.9" cy="137.4" r="0.9" fill="#d0021b"/>
<circle cx="229.5" cy="145.7" r="0.9" fill="#d0021b"/>
<circle cx="252.0" cy="155.8" r="0.9" fill="#d0021b"/>
<circle cx="231.2" cy="145.4" r="0.9" fill="#d0021b"/>
<circle cx="235.1" cy="147.7" r="0.9" fill="#d0021b"/>
<circle cx="242.8" cy="155.6" r="0.9" fill="#d0021b"/>
<circle cx="232.4" cy="153.3" r="0.9" fill="#d0021b"/>
<circle cx="229.8" cy="132.2" r="0.9" fill="#d0021b"/>
<circle cx="241.6" cy="150.1" r="0.9" fill="#d0021b"/>
<circle cx="229.5" cy="133.6" r="0.9" fill="#d0021b"/>
<circle cx="240.3" cy="153.0" r="0.9" fill="#d0021b"/>
<circle cx="240.2" cy="153.1" r="0.9" fill="#d0021b"/>
<circle cx="231.4" cy="155.6" r="0.9" fill="#d0021b"/>
<circle cx="231.5" cy="155.9" r="0.9" fill="#d0021b"/>
<circle cx="232.7" cy="142.5" r="0.9" fill="#d0021b"/>
<circle cx="238.9" cy="146.2" r="0.9" fill="#d0021b"/>
<circle cx="239.3" cy="154.8" r="0.9" fill="#d0021b"/>
<circle cx="235.9" cy="152.1" r="0.9" fill="#d0021b"/>
<circle cx="241.8" cy="152.7" r="0.9" fill="#d0021b"/>
<circle cx="231.9" cy="145.0" r="0.9" fill="#d0021b"/>
<circle cx="256.3" cy="155.7" r="0.9" fill="#d0021b"/>
<circle cx="246.4" cy="156.0" r="0.9" fill="#d0021b"/>
<circle cx="231.8" cy="154.2" r="0.9" fill="#d0021b"/>
<circle cx="240.3" cy="145.2" r="0.9" fill="#d0021b"/>
<circle cx="240.4" cy="154.4" r="0.9" fill="#d0021b"/>
<circle cx="246.4" cy="155.0" r="0.9" fill="#d0021b"/>
<circle cx="231.6" cy="135.0" r="0.9" fill="#d0021b"/>
<circle cx="237.4" cy="148.2" r="0.9" fill="#d0021b"/>
<circle cx="238.2" cy="142.4" r="0.9" fill="#d0021b"/>
<circle cx="234.5" cy="141.9" r="0.9" fill="#d0021b"/>
<circle cx="239.0" cy="145.9" r="0.9" fill="#d0021b"/>
<circle cx="234.0" cy="144.7" r="0.9" fill="#d0021b"/>
<circle cx="236.2" cy="154.0" r="0.9" fill="#d0021b"/>
<circle cx="231.3" cy="145.1" r="0.9" fill="#d0021b"/>
<circle cx="230.0" cy="131.7" r="0.9" fill="#d0021b"/>
<circle cx="230.6" cy="156.0" r="0.9" fill="#d0021b"/>
<circle cx="230.3" cy="131.4" r="0.9" fill="#d0021b"/>
<circle cx="232.8" cy="155.3" r="0.9" fill="#d0021b"/>
<circle cx="229.6" cy="155.9" r="0.9" fill="#d0021b"/>
<circle cx="238.8" cy="150.1" r="0.9" fill="#d0021b"/>
<circle cx="239.0" cy="148.3" r="0.9" fill="#d0021b"/>
<circle cx="229.9" cy="144.8" r="0.9" fill="#d0021b"/>
<circle cx="233.0" cy="140.7" r="0.9" fill="#d0021b"/>
<circle cx="243.1" cy="148.2" r="0.9" fill="#d0021b"/>
<circle cx="229.9" cy="133.5" r="0.9" fill="#d0021b"/>
<circle cx="249.1" cy="150.2" r="0.9" fill="#d0021b"/>
<circle cx="230.3" cy="154.4" r="0.9" fill="#d0021b"/>
<circle cx="230.3" cy="155.9" r="0.9" fill="#d0021b"/>
<circle cx="244.5" cy="150.0" r="0.9" fill="#d0021b"/>
<circle cx="237.4" cy="145.4" r="0.9" fill="#d0021b"/>
<circle cx="237.4" cy="154.4" r="0.9" fill="#d0021b"/>
<circle cx="230.2" cy="155.6" r="0.9" fill="#d0021b"/>
<circle cx="240.7" cy="155.3" r="0.9" fill="#d0021b"/>
<circle cx="232.5" cy="151.1" r="0.9" fill="#d0021b"/>
<circle cx="229.6" cy="153.4" r="0.9" fill="#d0021b"/>
<circle cx="232.1" cy="142.9" r="0.9" fill="#d0021b"/>
<circle cx="233.1" cy="153.2" r="0.9" fill="#d0021b"/>
<circle cx="256.0" cy="154.7" r="0.9" fill="#d0021b"/>
<circle cx="244.7" cy="152.4" r="0.9" fill="#d0021b"/>
<circle cx="229.7" cy="149.9" r="0.9" fill="#d0021b"/>
<circle cx="234.0" cy="143.3" r="0.9" fill="#d0021b"/>
<circle cx="232.8" cy="144.1" r="0.9" fill="#d0021b"/>
<circle cx="235.6" cy="154.9" r="0.9" fill="#d0021b"/>
<circle cx="245.3" cy="155.9" r="0.9" fill="#d0021b"/>
<circle cx="243.1" cy="155.6" r="0.9" fill="#d0021b"/>
<circle cx="229.4" cy="154.3" r="0.9" fill="#d0021b"/>
<circle cx="240.9" cy="145.1" r="0.9" fill="#d0021b"/>
<circle cx="229.4" cy="147.6" r="0.9" fill="#d0021b"/>
<circle cx="234.8" cy="143.5" r="0.9" fill="#d0021b"/>
<circle cx="231.0" cy="148.6" r="0.9" fill="#d0021b"/>
<circle cx="232.8" cy="139.9" r="0.9" fill="#d0021b"/>
<circle cx="231.8" cy="133.9" r="0.9" fill="#d0021b"/>
<circle cx="232.1" cy="154.5" r="0.9" fill="#d0021b"/>
<circle cx="239.0" cy="152.2" r="0.9" fill="#d0021b"/>
<circle cx="230.3" cy="143.6" r="0.9" fill="#d0021b"/>
<circle cx="230.1" cy="137.3" r="0.9" fill="#d0021b"/>
<circle cx="239.0" cy="147.4" r="0.9" fill="#d0021b"/>
<circle cx="237.3" cy="153.6" r="0.9" fill="#d0021b"/>
<circle cx="233.5" cy="152.0" r="0.9" fill="#d0021b"/>
<circle cx="247.1" cy="155.9" r="0.9" fill="#d0021b"/>
<circle cx="246.9" cy="156.0" r="0.9" fill="#d0021b"/>
<circle cx="231.2" cy="153.7" r="0.9" fill="#d0021b"/>
<circle cx="247.9" cy="154.0" r="0.9" fill="#d0021b"/>
<circle cx="233.2" cy="138.7" r="0.9" fill="#d0021b"/>
<circle cx="231.5" cy="149.8" r="0.9" fill="#d0021b"/>
<circle cx="235.5" cy="145.3" r="0.9" fill="#d0021b"/>
<circle cx="240.6" cy="150.7" r="0.9" fill="#d0021b"/>
<circle cx="232.8" cy="153.0" r="0.9" fill="#d0021b"/>
<circle cx="230.8" cy="136.2" r="0.9" fill="#d0021b"/>
<circle cx="238.1" cy="147.7" r="0.9" fill="#d0021b"/>
<circle cx="230.9" cy="150.0" r="0.9" fill="#d0021b"/>
<circle cx="241.3" cy="151.9" r="0.9" fill="#d0021b"/>
<circle cx="230.5" cy="149.1" r="0.9" fill="#d0021b"/>
<circle cx="246.7" cy="155.4" r="0.9" fill="#d0021b"/>
<circle cx="231.1" cy="153.0" r="0.9" fill="#d0021b"/>
<circle cx="239.1" cy="146.4" r="0.9" fill="#d0021b"/>
<circle cx="230.7" cy="155.0" r="0.9" fill="#d0021b"/>
<circle cx="231.7" cy="152.7" r="0.9" fill="#d0021b"/>
<circle cx="235.3" cy="155.3" r="0.9" fill="#d0021b"/>
<circle cx="232.6" cy="154.9" r="0.9" fill="#d0021b"/>
<circle cx="259.0" cy="153.8" r="0.9" fill="#d0021b"/>
<circle cx="230.3" cy="129.7" r="0.9" fill="#d0021b"/>
<circle cx="230.3" cy="151.0" r="0.9" fill="#d0021b"/>
<circle cx="262.4" cy="153.7" r="0.9" fill="#d0021b"/>
<circle cx="240.0" cy="153.3" r="0.9" fill="#d0021b"/>
<circle cx="231.1" cy="144.4" r="0.9" fill="#d0021b"/>
<circle cx="230.3" cy="154.4" r="0.9" fill="#d0021b"/>
<circle cx="233.3" cy="156.0" r="0.9" fill="#d0021b"/>
<circle cx="233.5" cy="142.1" r="0.9" fill="#d0021b"/>
<circle cx="238.9" cy="152.2" r="0.9" fill="#d0021b"/>
<circle cx="237.4" cy="152.2" r="0.9" fill="#d0021b"/>
<circle cx="230.6" cy="145.0" r="0.9" fill="#d0021b"/>
<circle cx="233.5" cy="143.8" r="0.9" fill="#d0021b"/>
<circle cx="248.5" cy="154.5" r="0.9" fill="#d0021b"/>
<circle cx="236.2" cy="146.1" r="0.9" fill="#d0021b"/>
<circle cx="233.8" cy="154.6" r="0.9" fill="#d0021b"/>
<circle cx="239.6" cy="146.0" r="0.9" fill="#d0021b"/>
<circle cx="241.3" cy="150.2" r="0.9" fill="#d0021b"/>
<circle cx="244.7" cy="151.7" r="0.9" fill="#d0021b"/>
<circle cx="237.6" cy="152.4" r="0.9" fill="#d0021b"/>
<circle cx="232.4" cy="145.9" r="0.9" fill="#d0021b"/>
<circle cx="230.2" cy="150.1" r="0.9" fill="#d0021b"/>
<circle cx="241.6" cy="150.1" r="0.9" fill="#d0021b"/>
<circle cx="237.3" cy="154.8" r="0.9" fill="#d0021b"/>
<circle cx="233.8" cy="151.0" r="0.9" fill="#d0021b"/>
<circle cx="237.2" cy="152.9" r="0.9" fill="#d0021b"/>
<circle cx="238.4" cy="143.8" r="0.9" fill="#d0021b"/>
<circle cx="231.0" cy="143.7" r="0.9" fill="#d0021b"/>
<circle cx="241.4" cy="154.0" r="0.9" fill="#d0021b"/>
<circle cx="234.8" cy="138.0" r="0.9" fill="#d0021b"/>
<circle cx="229.7" cy="146.1" r="0.9" fill="#d0021b"/>
<circle cx="230.8" cy="138.8" r="0.9" fill="#d0021b"/>
<circle cx="252.0" cy="154.3" r="0.9" fill="#d0021b"/>
<circle cx="230.3" cy="145.6" r="0.9" fill="#d0021b"/>
<circle cx="235.6" cy="146.4" r="0.9" fill="#d0021b"/>
<circle cx="235.1" cy="147.8" r="0.9" fill="#d0021b"/>
<circle cx="243.5" cy="153.1" r="0.9" fill="#d0021b"/>
<circle cx="233.6" cy="137.1" r="0.9" fill="#d0021b"/>
<circle cx="231.3" cy="143.0" r="0.9" fill="#d0021b"/>
<circle cx="233.4" cy="142.9" r="0.9" fill="#d0021b"/>
<circle cx="230.4" cy="129.0" r="0.9" fill="#d0021b"/>
<circle cx="232.9" cy="155.9" r="0.9" fill="#d0021b"/>
<circle cx="232.0" cy="151.4" r="0.9" fill="#d0021b"/>
<circle cx="229.5" cy="149.7" r="0.9" fill="#d0021b"/>
<circle cx="233.8" cy="145.2" r="0.9" fill="#d0021b"/>
<circle cx="232.9" cy="154.0" r="0.9" fill="#d0021b"/>
<circle cx="231.4" cy="141.2" r="0.9" fill="#d0021b"/>
<circle cx="251.9" cy="154.3" r="0.9" fill="#d0021b"/>
<circle cx="231.4" cy="138.9" r="0.9" fill="#d0021b"/>
<circle cx="233.4" cy="154.7" r="0.9" fill="#d0021b"/>
<circle cx="230.5" cy="138.5" r="0.9" fill="#d0021b"/>
<circle cx="242.7" cy="151.6" r="0.9" fill="#d0021b"/>
<circle cx="234.5" cy="149.1" r="0.9" fill="#d0021b"/>
<circle cx="231.4" cy="132.3" r="0.9" fill="#d0021b"/>
<circle cx="232.9" cy="146.1" r="0.9" fill="#d0021b"/>
<circle cx="243.1" cy="149.3" r="0.9" fill="#d0021b"/>
<circle cx="234.5" cy="153.9" r="0.9" fill="#d0021b"/>
<circle cx="235.8" cy="155.6" r="0.9" fill="#d0021b"/>
<circle cx="243.8" cy="154.6" r="0.9" fill="#d0021b"/>
<circle cx="244.6" cy="155.2" r="0.9" fill="#d0021b"/>
<circle cx="233.2" cy="154.2" r="0.9" fill="#d0021b"/>
<circle cx="233.8" cy="155.0" r="0.9" fill="#d0021b"/>
<circle cx="229.4" cy="139.1" r="0.9" fill="#d0021b"/>
<circle cx="232.0" cy="154.1" r="0.9" fill="#d0021b"/>
<circle cx="232.3" cy="149.7" r="0.9" fill="#d0021b"/>
<circle cx="233.9" cy="146.9" r="0.9" fill="#d0021b"/>
<circle cx="238.0" cy="153.7" r="0.9" fill="#d0021b"/>
<circle cx="250.5" cy="151.6" r="0.9" fill="#d0021b"/>
<circle cx="229.9" cy="135.2" r="0.9" fill="#d0021b"/>
<circle cx="248.3" cy="151.7" r="0.9" fill="#d0021b"/>
<circle cx="230.6" cy="136.4" r="0.9" fill="#d0021b"/>
<circle cx="237.4" cy="156.0" r="0.9" fill="#d0021b"/>
<circle cx="229.5" cy="128.3" r="0.9" fill="#d0021b"/>
<circle cx="237.9" cy="154.8" r="0.9" fill="#d0021b"/>
<circle cx="230.3" cy="155.2" r="0.9" fill="#d0021b"/>
<circle cx="231.5" cy="140.1" r="0.9" fill="#d0021b"/>
<circle cx="232.8" cy="155.2" r="0.9" fill="#d0021b"/>
<circle cx="248.2" cy="151.5" r="0.9" fill="#d0021b"/>
<circle cx="230.9" cy="134.3" r="0.9" fill="#d0021b"/>
<circle cx="236.9" cy="145.9" r="0.9" fill="#d0021b"/>
<circle cx="238.2" cy="144.5" r="0.9" fill="#d0021b"/>
<circle cx="241.8" cy="148.3" r="0.9" fill="#d0021b"/>
<circle cx="231.2" cy="142.6" r="0.9" fill="#d0021b"/>
<circle cx="235.5" cy="145.6" r="0.9" fill="#d0021b"/>
<circle cx="234.0" cy="139.9" r="0.9" fill="#d0021b"/>
<circle cx="235.9" cy="154.4" r="0.9" fill="#d0021b"/>
<circle cx="231.5" cy="155.3" r="0.9" fill="#d0021b"/>
<circle cx="234.8" cy="155.9" r="0.9" fill="#d0021b"/>
<circle cx="234.4" cy="155.4" r="0.9" fill="#d0021b"/>
<circle cx="234.8" cy="150.6" r="0.9" fill="#d0021b"/>
<circle cx="235.6" cy="142.5" r="0.9" fill="#d0021b"/>
<circle cx="229.5" cy="133.8" r="0.9" fill="#d0021b"/>
<circle cx="234.4" cy="149.1" r="0.9" fill="#d0021b"/>
<circle cx="238.2" cy="145.6" r="0.9" fill="#d0021b"/>
<circle cx="233.2" cy="151.5" r="0.9" fill="#d0021b"/>
<circle cx="255.3" cy="156.0" r="0.9" fill="#d0021b"/>
<circle cx="237.5" cy="149.4" r="0.9" fill="#d0021b"/>
<circle cx="229.6" cy="143.7" r="0.9" fill="#d0021b"/>
<circle cx="238.6" cy="144.0" r="0.9" fill="#d0021b"/>
<circle cx="232.6" cy="133.9" r="0.9" fill="#d0021b"/>
<circle cx="235.1" cy="151.0" r="0.9" fill="#d0021b"/>
<circle cx="247.6" cy="156.0" r="0.9" fill="#d0021b"/>
<circle cx="239.5" cy="150.6" r="0.9" fill="#d0021b"/>
<circle cx="232.7" cy="138.7" r="0.9" fill="#d0021b"/>
<circle cx="233.0" cy="150.3" r="0.9" fill="#d0021b"/>
<circle cx="235.4" cy="144.8" r="0.9" fill="#d0021b"/>
<circle cx="231.3" cy="150.3" r="0.9" fill="#d0021b"/>
<circle cx="233.8" cy="148.9" r="0.9" fill="#d0021b"/>
<circle cx="243.4" cy="155.0" r="0.9" fill="#d0021b"/>
<circle cx="243.5" cy="154.2" r="0.9" fill="#d0021b"/>
<circle cx="235.0" cy="154.2" r="0.9" fill="#d0021b"/>
<circle cx="235.0" cy="138.4" r="0.9" fill="#d0021b"/>
<circle cx="231.4" cy="126.5" r="0.9" fill="#d0021b"/>
<circle cx="230.3" cy="146.2" r="0.9" fill="#d0021b"/>
<circle cx="230.2" cy="135.4" r="0.9" fill="#d0021b"/>
<circle cx="231.4" cy="126.9" r="0.9" fill="#d0021b"/>
<circle cx="229.3" cy="129.6" r="0.9" fill="#d0021b"/>
<circle cx="232.2" cy="137.2" r="0.9" fill="#d0021b"/>
<circle cx="229.4" cy="146.8" r="0.9" fill="#d0021b"/>
<circle cx="229.2" cy="150.7" r="0.9" fill="#d0021b"/>
<circle cx="232.3" cy="134.5" r="0.9" fill="#d0021b"/>
<circle cx="231.4" cy="126.7" r="0.9" fill="#d0021b"/>
<circle cx="232.3" cy="134.4" r="0.9" fill="#d0021b"/>
<circle cx="231.3" cy="133.7" r="0.9" fill="#d0021b"/>
<circle cx="231.6" cy="135.0" r="0.9" fill="#d0021b"/>
<circle cx="231.5" cy="149.9" r="0.9" fill="#d0021b"/>
<circle cx="231.5" cy="140.7" r="0.9" fill="#d0021b"/>
<circle cx="231.8" cy="153.5" r="0.9" fill="#d0021b"/>
<circle cx="229.8" cy="155.3" r="0.9" fill="#d0021b"/>
<circle cx="231.8" cy="121.0" r="0.9" fill="#d0021b"/>
<circle cx="231.4" cy="144.2" r="0.9" fill="#d0021b"/>
<circle cx="232.0" cy="126.8" r="0.9" fill="#d0021b"/>
<circle cx="231.1" cy="148.3" r="0.9" fill="#d0021b"/>
<circle cx="230.2" cy="142.2" r="0.9" fill="#d0021b"/>
<circle cx="230.3" cy="141.8" r="0.9" fill="#d0021b"/>
<circle cx="231.4" cy="120.1" r="0.9" fill="#d0021b"/>
<circle cx="229.4" cy="136.2" r="0.9" fill="#d0021b"/>
<circle cx="229.3" cy="153.0" r="0.9" fill="#d0021b"/>
<circle cx="232.0" cy="135.9" r="0.9" fill="#d0021b"/>
<circle cx="232.3" cy="141.2" r="0.9" fill="#d0021b"/>
<circle cx="229.2" cy="143.5" r="0.9" fill="#d0021b"/>
<circle cx="231.2" cy="119.9" r="0.9" fill="#d0021b"/>
<circle cx="232.5" cy="140.0" r="0.9" fill="#d0021b"/>
<circle cx="230.6" cy="153.5" r="0.9" fill="#d0021b"/>
<circle cx="231.4" cy="149.9" r="0.9" fill="#d0021b"/>
<circle cx="229.7" cy="155.7" r="0.9" fill="#d0021b"/>
<circle cx="229.2" cy="131.3" r="0.9" fill="#d0021b"/>
<circle cx="229.6" cy="118.6" r="0.9" fill="#d0021b"/>
<circle cx="229.5" cy="123.0" r="0.9" fill="#d0021b"/>
<circle cx="229.6" cy="155.7" r="0.9" fill="#d0021b"/>
<circle cx="231.6" cy="148.9" r="0.9" fill="#d0021b"/>
<circle cx="231.7" cy="150.8" r="0.9" fill="#d0021b"/>
<circle cx="229.4" cy="127.3" r="0.9" fill="#d0021b"/>
<circle cx="231.6" cy="123.7" r="0.9" fill="#d0021b"/>
<circle cx="231.7" cy="154.0" r="0.9" fill="#d0021b"/>
<circle cx="231.3" cy="130.2" r="0.9" fill="#d0021b"/>
<circle cx="230.8" cy="120.1" r="0.9" fill="#d0021b"/>
<circle cx="233.3" cy="118.6" r="0.9" fill="#d0021b"/>
<circle cx="241.2" cy="135.8" r="0.9" fill="#d0021b"/>
<circle cx="229.3" cy="124.3" r="0.9" fill="#d0021b"/>
<circle cx="242.9" cy="134.6" r="0.9" fill="#d0021b"/>
<circle cx="234.3" cy="122.9" r="0.9" fill="#d0021b"/>
<circle cx="231.8" cy="120.5" r="0.9" fill="#d0021b"/>
<circle cx="237.3" cy="134.9" r="0.9" fill="#d0021b"/>
<circle cx="235.2" cy="125.7" r="0.9" fill="#d0021b"/>
<circle cx="211.7" cy="131.5" r="1.0" fill="#173f70"/>
<circle cx="213.0" cy="134.6" r="1.0" fill="#173f70"/>
<circle cx="214.5" cy="137.0" r="1.0" fill="#173f70"/>
<circle cx="215.0" cy="139.0" r="1.0" fill="#173f70"/>
<circle cx="208.5" cy="124.5" r="1.0" fill="#173f70"/>
<circle cx="209.0" cy="127.0" r="1.0" fill="#173f70"/>
<circle cx="215.3" cy="120.7" r="1.0" fill="#173f70"/>
<circle cx="218.0" cy="119.4" r="1.0" fill="#173f70"/>
<circle cx="214.0" cy="97.0" r="1.0" fill="#173f70"/>
<circle cx="210.8" cy="146.0" r="1.0" fill="#173f70"/>
<circle cx="209.2" cy="148.5" r="1.0" fill="#173f70"/>
<circle cx="208.0" cy="151.0" r="1.0" fill="#173f70"/>
<circle cx="201.6" cy="151.7" r="1.0" fill="#173f70"/>
<circle cx="203.5" cy="154.9" r="1.0" fill="#173f70"/>
<circle cx="178.8" cy="152.7" r="1.0" fill="#173f70"/>
<circle cx="182.0" cy="154.2" r="1.0" fill="#173f70"/>
<circle cx="186.0" cy="154.4" r="1.0" fill="#173f70"/>
<circle cx="189.0" cy="154.6" r="1.0" fill="#173f70"/>
<circle cx="195.0" cy="155.3" r="1.0" fill="#173f70"/>
<circle cx="216.0" cy="128.0" r="1.0" fill="#173f70"/>
<circle cx="212.0" cy="143.0" r="1.0" fill="#173f70"/>
<circle cx="252.0" cy="42.0" r="1.0" fill="#a8001a"/>
<circle cx="266.0" cy="42.0" r="1.0" fill="#a8001a"/>
<circle cx="246.0" cy="47.6" r="1.0" fill="#a8001a"/>
<circle cx="241.7" cy="70.4" r="1.0" fill="#a8001a"/>
<circle cx="238.0" cy="86.3" r="1.0" fill="#a8001a"/>
<circle cx="262.8" cy="87.1" r="1.0" fill="#a8001a"/>
<circle cx="237.3" cy="109.9" r="1.0" fill="#a8001a"/>
<circle cx="237.7" cy="109.9" r="1.0" fill="#a8001a"/>
<circle cx="232.8" cy="118.0" r="1.0" fill="#a8001a"/>
<circle cx="236.4" cy="118.0" r="1.0" fill="#a8001a"/>
<circle cx="243.0" cy="122.2" r="1.0" fill="#a8001a"/>
<circle cx="239.3" cy="125.5" r="1.0" fill="#a8001a"/>
<circle cx="245.4" cy="131.2" r="1.0" fill="#a8001a"/>
<circle cx="231.0" cy="120.0" r="1.0" fill="#a8001a"/>
<circle cx="230.0" cy="126.0" r="1.0" fill="#a8001a"/>
<circle cx="233.0" cy="128.0" r="1.0" fill="#a8001a"/>
<circle cx="235.0" cy="130.0" r="1.0" fill="#a8001a"/>
<circle cx="240.0" cy="135.0" r="1.0" fill="#a8001a"/>
<circle cx="248.0" cy="142.0" r="1.0" fill="#a8001a"/>
<circle cx="253.0" cy="148.0" r="1.0" fill="#a8001a"/>
<circle cx="258.0" cy="150.0" r="1.0" fill="#a8001a"/>
<circle cx="262.0" cy="152.0" r="1.0" fill="#a8001a"/>
<circle cx="266.0" cy="153.0" r="1.0" fill="#a8001a"/>
<circle cx="270.0" cy="153.5" r="1.0" fill="#a8001a"/>
<circle cx="256.0" cy="147.0" r="1.0" fill="#a8001a"/>
</g>
<rect x="217.45" y="44.45" width="1.2" height="1.3" fill="#111"/>
<rect x="217.45" y="51.20" width="1.2" height="1.3" fill="#111"/>
<rect x="217.45" y="57.95" width="1.2" height="1.3" fill="#111"/>
<rect x="217.45" y="64.70" width="1.2" height="1.3" fill="#111"/>
<rect x="217.45" y="71.45" width="1.2" height="1.3" fill="#111"/>
<rect x="217.45" y="78.20" width="1.2" height="1.3" fill="#111"/>
<rect x="217.45" y="84.95" width="1.2" height="1.3" fill="#111"/>
<rect x="217.45" y="91.70" width="1.2" height="1.3" fill="#111"/>
<rect x="217.45" y="98.45" width="1.2" height="1.3" fill="#111"/>
<rect x="217.45" y="105.20" width="1.2" height="1.3" fill="#111"/>
<rect x="217.45" y="111.95" width="1.2" height="1.3" fill="#111"/>
<rect x="217.45" y="118.70" width="1.2" height="1.3" fill="#111"/>
<rect x="217.45" y="125.45" width="1.2" height="1.3" fill="#111"/>
<rect x="217.45" y="132.20" width="1.2" height="1.3" fill="#111"/>
<rect x="217.45" y="138.95" width="1.2" height="1.3" fill="#111"/>
<rect x="217.45" y="145.70" width="1.2" height="1.3" fill="#111"/>
<rect x="217.45" y="152.45" width="1.2" height="1.3" fill="#111"/>
<rect x="228.45" y="44.45" width="1.2" height="1.3" fill="#111"/>
<rect x="228.45" y="51.20" width="1.2" height="1.3" fill="#111"/>
<rect x="228.45" y="57.95" width="1.2" height="1.3" fill="#111"/>
<rect x="228.45" y="64.70" width="1.2" height="1.3" fill="#111"/>
<rect x="228.45" y="71.45" width="1.2" height="1.3" fill="#111"/>
<rect x="228.45" y="78.20" width="1.2" height="1.3" fill="#111"/>
<rect x="228.45" y="84.95" width="1.2" height="1.3" fill="#111"/>
<rect x="228.45" y="91.70" width="1.2" height="1.3" fill="#111"/>
<rect x="228.45" y="98.45" width="1.2" height="1.3" fill="#111"/>
<rect x="228.45" y="105.20" width="1.2" height="1.3" fill="#111"/>
<rect x="228.45" y="111.95" width="1.2" height="1.3" fill="#111"/>
<rect x="228.45" y="118.70" width="1.2" height="1.3" fill="#111"/>
<rect x="228.45" y="125.45" width="1.2" height="1.3" fill="#111"/>
<rect x="228.45" y="132.20" width="1.2" height="1.3" fill="#111"/>
<rect x="228.45" y="138.95" width="1.2" height="1.3" fill="#111"/>
<rect x="228.45" y="145.70" width="1.2" height="1.3" fill="#111"/>
<rect x="228.45" y="152.45" width="1.2" height="1.3" fill="#111"/>
<rect x="174.6" y="39.0" width="100.2" height="121.7" fill="none" stroke="#1a1a1a" stroke-width="1.1"/>
<line x1="171.20" y1="155.30" x2="174.10" y2="155.30" stroke="#333" stroke-width="0.6" />
<text x="169.30" y="157.70" font-size="7.0" text-anchor="end" stroke="#2a2a2a" stroke-width="0.088" >0</text>
<line x1="171.20" y1="131.73" x2="174.10" y2="131.73" stroke="#333" stroke-width="0.6" />
<text x="169.30" y="134.13" font-size="7.0" text-anchor="end" stroke="#2a2a2a" stroke-width="0.088" >50</text>
<line x1="171.20" y1="108.15" x2="174.10" y2="108.15" stroke="#333" stroke-width="0.6" />
<text x="169.30" y="110.55" font-size="7.0" text-anchor="end" stroke="#2a2a2a" stroke-width="0.088" >100</text>
<line x1="171.20" y1="84.58" x2="174.10" y2="84.58" stroke="#333" stroke-width="0.6" />
<text x="169.30" y="86.98" font-size="7.0" text-anchor="end" stroke="#2a2a2a" stroke-width="0.088" >150</text>
<line x1="171.20" y1="61.00" x2="174.10" y2="61.00" stroke="#333" stroke-width="0.6" />
<text x="169.30" y="63.40" font-size="7.0" text-anchor="end" stroke="#2a2a2a" stroke-width="0.088" >200</text>
<line x1="195.90" y1="160.90" x2="195.90" y2="163.60" stroke="#333" stroke-width="0.6" />
<text x="195.90" y="172.30" font-size="6.8" text-anchor="middle" stroke="#2a2a2a" stroke-width="0.085" >−5</text>
<line x1="223.40" y1="160.90" x2="223.40" y2="163.60" stroke="#333" stroke-width="0.6" />
<text x="223.40" y="172.30" font-size="6.8" text-anchor="middle" stroke="#2a2a2a" stroke-width="0.085" >0</text>
<line x1="250.90" y1="160.90" x2="250.90" y2="163.60" stroke="#333" stroke-width="0.6" />
<text x="250.90" y="172.30" font-size="6.8" text-anchor="middle" stroke="#2a2a2a" stroke-width="0.085" >5</text>
<text x="199.50" y="184.90" font-size="8.3" textLength="12.00" lengthAdjust="spacingAndGlyphs" stroke="#2a2a2a" stroke-width="0.104" >Log</text>
<text x="211.70" y="187.40" font-size="5.4" stroke="#2a2a2a" stroke-width="0.068" >2</text>
<text x="215.60" y="184.90" font-size="8.3" textLength="34.00" lengthAdjust="spacingAndGlyphs" stroke="#2a2a2a" stroke-width="0.104" >fold change</text>
<text transform="translate(152 117.8) rotate(-90)" font-size="7" fill="#2a2a2a">−Log<tspan font-size="4.8" dy="1.8">10</tspan><tspan dy="-1.8"> FDR</tspan></text>
<text x="233.00" y="61.00" font-size="6.3" textLength="22.30" lengthAdjust="spacingAndGlyphs" fill="#333" stroke="#333" stroke-width="0.079" >IGF2BP1</text>
<line x1="241.00" y1="53.20" x2="245.60" y2="47.30" stroke="#333" stroke-width="0.5" />
<text x="179.80" y="143.60" font-size="6.3" textLength="20.80" lengthAdjust="spacingAndGlyphs" font-style="italic" fill="#333" stroke="#333" stroke-width="0.079" >GCNT2</text>
<line x1="201.80" y1="144.30" x2="207.00" y2="150.60" stroke="#333" stroke-width="0.5" />
<text x="252.00" y="133.40" font-size="6.3" textLength="19.50" lengthAdjust="spacingAndGlyphs" font-style="italic" fill="#333" stroke="#333" stroke-width="0.079" >LIN28B</text>
<line x1="261.30" y1="135.50" x2="256.70" y2="141.80" stroke="#333" stroke-width="0.5" />
<text x="304.60" y="15.80" font-size="11" font-weight="bold" fill="#111" >E</text>
<text x="343.80" y="16.10" font-size="8.2" textLength="128.10" lengthAdjust="spacingAndGlyphs" stroke="#2a2a2a" stroke-width="0.102" >Primary cells CUT&amp;RUN/ChIP-seq</text>
<line x1="343.80" y1="17.20" x2="471.90" y2="17.20" stroke="#555" stroke-width="0.55" />
<text x="335.80" y="26.20" font-size="6.0" textLength="13.80" lengthAdjust="spacingAndGlyphs" stroke="#2a2a2a" stroke-width="0.075" >10 kb</text>
<path d="M335.6,29.3 V32 H350 V29.3" fill="none" stroke="#333" stroke-width="0.7"/>
<line x1="333.50" y1="41.50" x2="347.30" y2="41.50" stroke="#333" stroke-width="0.5" />
<rect x="333.20" y="36.90" width="2.00" height="9.20" fill="#111" />
<rect x="336.80" y="36.90" width="2.00" height="9.20" fill="#111" />
<rect x="341.20" y="36.90" width="2.00" height="9.20" fill="#111" />
<rect x="345.20" y="36.90" width="2.00" height="9.20" fill="#111" />
<text x="334.60" y="51.20" font-size="6.0" textLength="8.10" lengthAdjust="spacingAndGlyphs" font-style="italic" stroke="#2a2a2a" stroke-width="0.075" >GIP</text>
<line x1="389.20" y1="41.30" x2="474.70" y2="41.30" stroke="#444" stroke-width="0.5" />
<rect x="389.20" y="36.30" width="4.00" height="9.00" fill="#111" rx="0.8"/>
<rect x="415.00" y="36.40" width="1.70" height="9.00" fill="#111" />
<rect x="431.30" y="36.40" width="2.10" height="9.00" fill="#111" />
<rect x="439.60" y="36.40" width="1.70" height="9.00" fill="#111" />
<rect x="448.80" y="36.40" width="1.80" height="9.00" fill="#111" />
<rect x="451.60" y="36.40" width="1.90" height="9.00" fill="#111" />
<rect x="454.40" y="36.40" width="1.90" height="9.00" fill="#111" />
<rect x="457.10" y="36.40" width="2.00" height="9.00" fill="#111" />
<rect x="459.90" y="36.40" width="2.20" height="9.00" fill="#111" />
<rect x="465.00" y="36.40" width="2.60" height="9.00" fill="#111" />
<rect x="467.00" y="38.50" width="7.70" height="5.80" fill="#111" />
<path d="M401.1,40.4 L402.5,41.3 L401.1,42.2" fill="none" stroke="#333" stroke-width="0.65"/>
<path d="M420.8,40.4 L422.2,41.3 L420.8,42.2" fill="none" stroke="#333" stroke-width="0.65"/>
<path d="M423.1,40.4 L424.5,41.3 L423.1,42.2" fill="none" stroke="#333" stroke-width="0.65"/>
<text x="418.00" y="51.20" font-size="6.0" textLength="22.50" lengthAdjust="spacingAndGlyphs" font-style="italic" stroke="#2a2a2a" stroke-width="0.075" >IGF2BP1</text>
<text x="326.80" y="63.30" font-size="6.1" text-anchor="end" fill="#333" stroke="#333" stroke-width="0.076" >BMI1</text>
<path d="M328.6,69.7 L328.6,69.5 L329.3,69.0 L330.0,69.6 L330.7,69.4 L331.4,69.6 L332.1,69.5 L332.8,68.8 L333.5,69.7 L334.2,69.4 L334.9,69.6 L335.6,69.7 L336.3,69.3 L337.0,69.5 L337.7,69.5 L338.4,69.6 L339.1,69.6 L339.8,69.7 L340.5,69.1 L341.2,67.5 L341.9,69.6 L342.6,69.3 L343.3,69.2 L344.0,69.7 L344.7,69.6 L345.4,69.7 L346.1,69.7 L346.8,69.7 L347.5,69.6 L348.2,69.3 L348.9,69.6 L349.6,69.6 L350.3,69.2 L351.0,69.4 L351.7,69.5 L352.4,68.8 L353.1,69.7 L353.8,69.6 L354.5,69.6 L355.2,69.5 L355.9,69.5 L356.6,69.5 L357.3,68.9 L358.0,69.6 L358.7,69.3 L359.4,69.5 L360.1,69.6 L360.8,69.6 L361.5,69.1 L362.2,68.8 L362.9,67.4 L363.6,69.5 L364.3,69.7 L365.0,69.5 L365.7,69.5 L366.4,69.7 L367.1,69.2 L367.8,69.6 L368.5,69.2 L369.2,69.7 L369.9,69.4 L370.6,69.6 L371.3,69.6 L372.0,69.0 L372.7,69.5 L373.4,69.6 L374.1,69.6 L374.8,69.5 L375.5,69.7 L376.2,69.7 L376.9,69.4 L377.6,69.6 L378.3,69.5 L379.0,69.5 L379.7,69.2 L380.4,69.4 L381.1,58.8 L381.8,61.1 L382.5,56.7 L383.2,58.7 L383.9,60.7 L384.6,57.2 L385.3,61.5 L386.0,61.1 L386.7,62.4 L387.4,56.8 L388.1,58.9 L388.8,59.9 L389.5,58.4 L390.2,65.9 L390.9,66.7 L391.6,65.7 L392.3,65.3 L393.0,66.5 L393.7,67.2 L394.4,67.5 L395.1,66.4 L395.8,67.5 L396.5,62.3 L397.2,60.5 L397.9,62.7 L398.6,61.4 L399.3,62.7 L400.0,68.8 L400.7,68.9 L401.4,69.7 L402.1,69.0 L402.8,69.5 L403.5,69.4 L404.2,69.5 L404.9,69.2 L405.6,69.7 L406.3,69.6 L407.0,69.6 L407.7,68.3 L408.4,68.4 L409.1,68.4 L409.8,68.5 L410.5,67.4 L411.2,69.2 L411.9,69.0 L412.6,69.7 L413.3,69.5 L414.0,69.6 L414.7,68.1 L415.4,68.3 L416.1,68.1 L416.8,69.7 L417.5,69.5 L418.2,69.6 L418.9,69.6 L419.6,69.7 L420.3,69.6 L421.0,69.5 L421.7,69.5 L422.4,69.3 L423.1,69.6 L423.8,69.6 L424.5,69.5 L425.2,69.6 L425.9,69.5 L426.6,69.5 L427.3,68.8 L428.0,69.5 L428.7,69.3 L429.4,69.6 L430.1,69.5 L430.8,69.0 L431.5,69.5 L432.2,69.5 L432.9,68.9 L433.6,69.5 L434.3,69.2 L435.0,69.6 L435.7,69.6 L436.4,69.6 L437.1,69.2 L437.8,69.1 L438.5,68.9 L439.2,67.7 L439.9,69.6 L440.6,69.6 L441.3,69.1 L442.0,69.7 L442.7,69.2 L443.4,69.5 L444.1,69.5 L444.8,69.4 L445.5,69.6 L446.2,67.4 L446.9,69.4 L447.6,69.5 L448.3,69.7 L449.0,69.4 L449.7,69.4 L450.4,69.5 L451.1,69.5 L451.8,69.5 L452.5,69.6 L453.2,69.3 L453.9,69.4 L454.6,69.5 L455.3,69.6 L456.0,69.5 L456.7,67.7 L457.4,69.6 L458.1,67.2 L458.8,68.2 L459.5,68.2 L460.2,68.5 L460.9,69.4 L461.6,69.3 L462.3,69.5 L463.0,69.7 L463.7,69.2 L464.4,69.6 L465.1,69.5 L465.8,69.5 L466.5,68.2 L467.2,69.5 L467.9,69.7 L468.6,69.4 L469.3,69.4 L470.0,69.5 L470.7,69.6 L471.4,69.2 L472.1,69.7 L472.8,69.7 L473.5,69.7 L474.2,69.5 L474.9,68.3 L475.6,69.0 L476.3,69.7 L477.0,69.6 L477.7,69.6 L478.4,69.0 L479.1,69.5 L479.8,69.7 L480.5,69.2 L481.2,69.2 L481.9,68.9 L482.6,69.4 L483.3,69.5 L484.0,69.4 L484.7,69.5 L485.4,69.7 L486.1,69.6 L486.8,69.5 L487.5,68.3 L487.7,69.7 Z" fill="#e5401a" stroke="#e5401a" stroke-width="0.3"/>
<line x1="328.60" y1="69.70" x2="487.70" y2="69.70" stroke="#e5401a" stroke-width="0.7" />
<text x="471.20" y="61.50" font-size="5.8" textLength="23.20" lengthAdjust="spacingAndGlyphs" fill="#333" stroke="#333" stroke-width="0.072" >[0 - 1.04]</text>
<text x="326.80" y="80.50" font-size="6.1" text-anchor="end" fill="#333" stroke="#333" stroke-width="0.076" >RING1B</text>
<path d="M328.6,87.3 L328.6,87.2 L329.3,87.2 L330.0,86.7 L330.7,87.2 L331.4,86.4 L332.1,87.3 L332.8,87.2 L333.5,86.9 L334.2,87.2 L334.9,86.4 L335.6,87.2 L336.3,87.1 L337.0,85.1 L337.7,86.9 L338.4,86.7 L339.1,87.0 L339.8,87.2 L340.5,87.3 L341.2,87.1 L341.9,87.2 L342.6,87.1 L343.3,86.9 L344.0,87.0 L344.7,87.2 L345.4,87.1 L346.1,86.9 L346.8,87.1 L347.5,87.1 L348.2,87.0 L348.9,87.1 L349.6,87.0 L350.3,87.1 L351.0,87.1 L351.7,87.1 L352.4,87.2 L353.1,87.3 L353.8,87.3 L354.5,87.1 L355.2,87.3 L355.9,87.0 L356.6,87.1 L357.3,86.8 L358.0,86.7 L358.7,86.7 L359.4,86.6 L360.1,87.2 L360.8,86.7 L361.5,87.0 L362.2,87.1 L362.9,87.1 L363.6,87.2 L364.3,87.3 L365.0,87.1 L365.7,87.1 L366.4,86.9 L367.1,87.2 L367.8,86.9 L368.5,87.0 L369.2,87.2 L369.9,87.2 L370.6,87.2 L371.3,87.3 L372.0,87.1 L372.7,87.3 L373.4,87.3 L374.1,86.7 L374.8,85.8 L375.5,85.7 L376.2,85.6 L376.9,87.1 L377.6,87.3 L378.3,87.2 L379.0,87.0 L379.7,86.7 L380.4,87.1 L381.1,80.3 L381.8,80.6 L382.5,80.5 L383.2,82.7 L383.9,80.0 L384.6,81.4 L385.3,80.3 L386.0,80.1 L386.7,81.2 L387.4,83.1 L388.1,83.7 L388.8,84.0 L389.5,84.6 L390.2,84.2 L390.9,83.2 L391.6,84.2 L392.3,84.6 L393.0,83.9 L393.7,83.1 L394.4,81.9 L395.1,81.1 L395.8,80.8 L396.5,83.0 L397.2,83.4 L397.9,81.1 L398.6,82.3 L399.3,83.6 L400.0,87.2 L400.7,87.3 L401.4,87.0 L402.1,86.9 L402.8,85.6 L403.5,85.6 L404.2,84.9 L404.9,85.6 L405.6,87.1 L406.3,87.1 L407.0,87.1 L407.7,86.7 L408.4,87.1 L409.1,87.3 L409.8,87.1 L410.5,87.1 L411.2,87.0 L411.9,87.0 L412.6,87.2 L413.3,87.2 L414.0,87.2 L414.7,87.0 L415.4,86.8 L416.1,87.3 L416.8,87.1 L417.5,87.2 L418.2,87.1 L418.9,87.2 L419.6,87.2 L420.3,87.1 L421.0,87.2 L421.7,87.0 L422.4,87.1 L423.1,87.1 L423.8,87.2 L424.5,87.2 L425.2,87.1 L425.9,86.4 L426.6,87.2 L427.3,87.2 L428.0,87.1 L428.7,87.1 L429.4,87.3 L430.1,87.1 L430.8,87.3 L431.5,87.2 L432.2,86.6 L432.9,87.1 L433.6,87.2 L434.3,86.7 L435.0,86.6 L435.7,87.2 L436.4,87.1 L437.1,87.1 L437.8,87.3 L438.5,87.2 L439.2,87.2 L439.9,86.5 L440.6,87.1 L441.3,86.5 L442.0,87.2 L442.7,87.2 L443.4,87.1 L444.1,85.3 L444.8,86.8 L445.5,87.3 L446.2,87.2 L446.9,87.1 L447.6,87.2 L448.3,87.1 L449.0,87.1 L449.7,86.7 L450.4,86.7 L451.1,86.5 L451.8,86.7 L452.5,87.2 L453.2,87.3 L453.9,87.0 L454.6,86.7 L455.3,87.2 L456.0,87.3 L456.7,87.1 L457.4,87.2 L458.1,86.8 L458.8,86.5 L459.5,87.0 L460.2,86.4 L460.9,87.2 L461.6,87.2 L462.3,86.6 L463.0,87.3 L463.7,87.2 L464.4,85.4 L465.1,85.7 L465.8,85.5 L466.5,85.5 L467.2,87.1 L467.9,87.2 L468.6,87.2 L469.3,86.9 L470.0,87.3 L470.7,85.5 L471.4,85.7 L472.1,85.6 L472.8,85.5 L473.5,85.6 L474.2,85.6 L474.9,87.1 L475.6,86.7 L476.3,87.1 L477.0,87.3 L477.7,87.1 L478.4,86.6 L479.1,87.2 L479.8,86.4 L480.5,87.3 L481.2,87.3 L481.9,87.1 L482.6,87.1 L483.3,87.2 L484.0,86.7 L484.7,87.1 L485.4,87.1 L486.1,87.2 L486.8,87.2 L487.5,87.1 L487.7,87.3 Z" fill="#1a7a3c" stroke="#1a7a3c" stroke-width="0.3"/>
<line x1="328.60" y1="87.30" x2="487.70" y2="87.30" stroke="#1a7a3c" stroke-width="0.7" />
<text x="471.20" y="78.80" font-size="5.8" textLength="23.20" lengthAdjust="spacingAndGlyphs" fill="#333" stroke="#333" stroke-width="0.072" >[0 - 1.87]</text>
<text x="326.80" y="97.50" font-size="6.1" text-anchor="end" fill="#333" stroke="#333" stroke-width="0.076" >EZH2</text>
<path d="M328.6,104.8 L328.6,104.7 L329.3,104.8 L330.0,104.6 L330.7,104.8 L331.4,104.7 L332.1,102.9 L332.8,103.1 L333.5,104.7 L334.2,104.8 L334.9,104.6 L335.6,104.7 L336.3,103.9 L337.0,104.7 L337.7,104.7 L338.4,104.7 L339.1,104.7 L339.8,104.6 L340.5,104.6 L341.2,104.6 L341.9,104.7 L342.6,104.5 L343.3,103.2 L344.0,103.1 L344.7,103.0 L345.4,103.1 L346.1,102.9 L346.8,104.8 L347.5,104.5 L348.2,104.7 L348.9,104.6 L349.6,104.7 L350.3,104.2 L351.0,104.7 L351.7,104.6 L352.4,104.6 L353.1,104.1 L353.8,104.6 L354.5,104.5 L355.2,104.6 L355.9,104.7 L356.6,104.6 L357.3,104.2 L358.0,104.7 L358.7,104.8 L359.4,103.0 L360.1,104.7 L360.8,104.7 L361.5,104.3 L362.2,104.0 L362.9,104.6 L363.6,104.5 L364.3,104.6 L365.0,104.7 L365.7,104.7 L366.4,104.5 L367.1,104.6 L367.8,104.6 L368.5,104.6 L369.2,104.7 L369.9,104.7 L370.6,104.8 L371.3,104.5 L372.0,104.0 L372.7,103.5 L373.4,104.6 L374.1,104.5 L374.8,104.6 L375.5,104.2 L376.2,104.7 L376.9,104.3 L377.6,104.4 L378.3,104.6 L379.0,104.1 L379.7,103.9 L380.4,103.9 L381.1,104.5 L381.8,104.7 L382.5,104.7 L383.2,104.3 L383.9,104.5 L384.6,96.0 L385.3,95.4 L386.0,96.9 L386.7,98.7 L387.4,92.6 L388.1,91.7 L388.8,93.1 L389.5,94.4 L390.2,93.1 L390.9,92.8 L391.6,101.8 L392.3,101.7 L393.0,101.6 L393.7,99.9 L394.4,104.4 L395.1,104.5 L395.8,104.3 L396.5,101.4 L397.2,99.1 L397.9,100.8 L398.6,100.7 L399.3,100.2 L400.0,99.2 L400.7,101.0 L401.4,100.8 L402.1,104.3 L402.8,104.6 L403.5,104.7 L404.2,104.7 L404.9,104.3 L405.6,104.3 L406.3,104.8 L407.0,104.5 L407.7,104.6 L408.4,104.6 L409.1,104.8 L409.8,104.8 L410.5,104.7 L411.2,104.5 L411.9,104.7 L412.6,104.1 L413.3,102.7 L414.0,104.8 L414.7,104.6 L415.4,104.6 L416.1,104.5 L416.8,104.2 L417.5,104.5 L418.2,104.6 L418.9,104.4 L419.6,103.9 L420.3,104.7 L421.0,104.4 L421.7,104.6 L422.4,103.9 L423.1,104.8 L423.8,104.7 L424.5,104.5 L425.2,104.7 L425.9,104.6 L426.6,104.7 L427.3,104.8 L428.0,104.6 L428.7,104.6 L429.4,104.5 L430.1,104.7 L430.8,104.7 L431.5,103.9 L432.2,104.8 L432.9,104.4 L433.6,104.6 L434.3,104.7 L435.0,104.6 L435.7,104.5 L436.4,104.5 L437.1,104.6 L437.8,104.8 L438.5,104.1 L439.2,104.4 L439.9,104.8 L440.6,104.1 L441.3,104.0 L442.0,104.7 L442.7,104.7 L443.4,104.2 L444.1,104.5 L444.8,104.7 L445.5,104.8 L446.2,102.5 L446.9,104.7 L447.6,104.7 L448.3,104.2 L449.0,104.7 L449.7,104.6 L450.4,104.8 L451.1,104.8 L451.8,104.7 L452.5,104.7 L453.2,104.8 L453.9,104.1 L454.6,104.8 L455.3,104.6 L456.0,104.5 L456.7,104.6 L457.4,104.6 L458.1,104.6 L458.8,104.5 L459.5,104.3 L460.2,104.8 L460.9,104.6 L461.6,104.7 L462.3,104.5 L463.0,101.6 L463.7,103.9 L464.4,104.6 L465.1,102.7 L465.8,104.6 L466.5,104.6 L467.2,104.8 L467.9,104.4 L468.6,104.7 L469.3,104.6 L470.0,104.7 L470.7,104.7 L471.4,104.6 L472.1,104.6 L472.8,104.8 L473.5,104.6 L474.2,104.7 L474.9,104.8 L475.6,104.6 L476.3,104.7 L477.0,104.8 L477.7,104.6 L478.4,104.6 L479.1,104.6 L479.8,104.7 L480.5,104.8 L481.2,104.4 L481.9,104.6 L482.6,104.7 L483.3,104.2 L484.0,104.6 L484.7,104.6 L485.4,104.3 L486.1,104.6 L486.8,104.0 L487.5,104.6 L487.7,104.8 Z" fill="#1b9e98" stroke="#1b9e98" stroke-width="0.3"/>
<line x1="328.60" y1="104.80" x2="487.70" y2="104.80" stroke="#1b9e98" stroke-width="0.7" />
<text x="471.20" y="95.80" font-size="5.8" textLength="23.20" lengthAdjust="spacingAndGlyphs" fill="#333" stroke="#333" stroke-width="0.072" >[0 - 0.38]</text>
<text x="326.80" y="114.80" font-size="6.1" text-anchor="end" fill="#333" stroke="#333" stroke-width="0.076" >CBX2</text>
<path d="M328.6,121.9 L328.6,121.8 L329.3,121.8 L330.0,121.7 L330.7,121.8 L331.4,121.9 L332.1,121.2 L332.8,121.0 L333.5,121.5 L334.2,121.8 L334.9,121.2 L335.6,121.4 L336.3,121.8 L337.0,121.8 L337.7,121.9 L338.4,121.8 L339.1,121.6 L339.8,121.9 L340.5,121.7 L341.2,121.1 L341.9,121.6 L342.6,121.4 L343.3,121.7 L344.0,121.8 L344.7,121.9 L345.4,121.7 L346.1,119.3 L346.8,121.8 L347.5,120.4 L348.2,120.6 L348.9,120.5 L349.6,121.8 L350.3,121.7 L351.0,121.8 L351.7,120.9 L352.4,121.0 L353.1,120.9 L353.8,121.0 L354.5,121.9 L355.2,121.6 L355.9,121.7 L356.6,121.9 L357.3,121.9 L358.0,121.7 L358.7,121.6 L359.4,121.7 L360.1,121.9 L360.8,121.8 L361.5,121.9 L362.2,121.8 L362.9,121.7 L363.6,121.7 L364.3,121.6 L365.0,120.6 L365.7,121.6 L366.4,121.7 L367.1,121.8 L367.8,121.8 L368.5,121.8 L369.2,121.9 L369.9,121.7 L370.6,121.7 L371.3,121.6 L372.0,121.7 L372.7,121.7 L373.4,120.2 L374.1,121.8 L374.8,121.5 L375.5,121.1 L376.2,121.3 L376.9,121.8 L377.6,121.9 L378.3,121.2 L379.0,121.8 L379.7,121.5 L380.4,121.7 L381.1,106.5 L381.8,112.8 L382.5,106.6 L383.2,106.6 L383.9,110.7 L384.6,116.0 L385.3,114.1 L386.0,114.4 L386.7,114.1 L387.4,114.6 L388.1,119.5 L388.8,119.2 L389.5,118.9 L390.2,116.2 L390.9,116.0 L391.6,118.3 L392.3,118.3 L393.0,116.2 L393.7,116.6 L394.4,116.5 L395.1,117.1 L395.8,116.6 L396.5,116.1 L397.2,116.7 L397.9,115.7 L398.6,121.9 L399.3,121.7 L400.0,121.7 L400.7,121.7 L401.4,121.7 L402.1,121.5 L402.8,121.8 L403.5,121.6 L404.2,121.7 L404.9,121.5 L405.6,121.9 L406.3,121.5 L407.0,121.7 L407.7,121.3 L408.4,121.7 L409.1,121.7 L409.8,119.8 L410.5,121.7 L411.2,121.7 L411.9,121.8 L412.6,121.7 L413.3,121.9 L414.0,121.5 L414.7,121.8 L415.4,121.7 L416.1,120.5 L416.8,120.5 L417.5,120.6 L418.2,120.4 L418.9,121.3 L419.6,121.7 L420.3,121.3 L421.0,121.6 L421.7,121.7 L422.4,121.7 L423.1,121.6 L423.8,121.8 L424.5,121.6 L425.2,121.8 L425.9,121.2 L426.6,121.1 L427.3,121.1 L428.0,121.1 L428.7,121.2 L429.4,121.8 L430.1,121.8 L430.8,119.6 L431.5,121.0 L432.2,121.8 L432.9,121.8 L433.6,121.3 L434.3,121.9 L435.0,121.9 L435.7,121.8 L436.4,121.8 L437.1,121.8 L437.8,121.8 L438.5,121.6 L439.2,121.8 L439.9,121.6 L440.6,121.1 L441.3,121.7 L442.0,121.8 L442.7,121.7 L443.4,121.8 L444.1,121.8 L444.8,121.8 L445.5,121.9 L446.2,121.8 L446.9,121.9 L447.6,121.8 L448.3,121.0 L449.0,121.0 L449.7,121.0 L450.4,121.7 L451.1,121.6 L451.8,121.7 L452.5,121.1 L453.2,121.2 L453.9,121.8 L454.6,121.8 L455.3,121.8 L456.0,121.7 L456.7,121.8 L457.4,121.4 L458.1,121.6 L458.8,121.8 L459.5,120.2 L460.2,120.0 L460.9,119.9 L461.6,121.8 L462.3,121.1 L463.0,121.7 L463.7,121.7 L464.4,121.6 L465.1,121.8 L465.8,121.9 L466.5,121.7 L467.2,121.8 L467.9,121.7 L468.6,121.3 L469.3,121.6 L470.0,121.8 L470.7,121.8 L471.4,121.5 L472.1,121.7 L472.8,121.8 L473.5,121.4 L474.2,121.8 L474.9,121.8 L475.6,121.4 L476.3,121.9 L477.0,121.3 L477.7,121.7 L478.4,121.2 L479.1,121.5 L479.8,121.7 L480.5,121.8 L481.2,121.7 L481.9,121.8 L482.6,121.3 L483.3,121.8 L484.0,121.8 L484.7,121.7 L485.4,121.9 L486.1,121.5 L486.8,121.6 L487.5,121.8 L487.7,121.9 Z" fill="#cc3f8d" stroke="#cc3f8d" stroke-width="0.3"/>
<line x1="328.60" y1="121.90" x2="487.70" y2="121.90" stroke="#cc3f8d" stroke-width="0.7" />
<text x="471.20" y="113.10" font-size="5.8" textLength="23.20" lengthAdjust="spacingAndGlyphs" fill="#333" stroke="#333" stroke-width="0.072" >[0 - 1.01]</text>
<text x="326.80" y="131.50" font-size="6.1" text-anchor="end" fill="#333" stroke="#333" stroke-width="0.076" >CBX4</text>
<path d="M328.6,138.0 L328.6,137.9 L329.3,137.9 L330.0,137.9 L330.7,138.0 L331.4,137.7 L332.1,137.8 L332.8,138.0 L333.5,137.6 L334.2,137.3 L334.9,137.8 L335.6,137.7 L336.3,137.7 L337.0,137.0 L337.7,137.0 L338.4,137.0 L339.1,137.0 L339.8,137.7 L340.5,137.8 L341.2,137.8 L341.9,137.9 L342.6,135.1 L343.3,135.3 L344.0,135.3 L344.7,137.7 L345.4,137.7 L346.1,137.8 L346.8,137.4 L347.5,137.7 L348.2,137.7 L348.9,137.8 L349.6,137.9 L350.3,137.8 L351.0,137.9 L351.7,137.9 L352.4,137.8 L353.1,137.6 L353.8,138.0 L354.5,136.9 L355.2,137.7 L355.9,137.5 L356.6,137.7 L357.3,135.6 L358.0,135.7 L358.7,135.3 L359.4,136.8 L360.1,137.9 L360.8,138.0 L361.5,137.2 L362.2,137.5 L362.9,137.3 L363.6,136.3 L364.3,136.4 L365.0,136.4 L365.7,135.7 L366.4,137.2 L367.1,137.7 L367.8,137.9 L368.5,137.4 L369.2,137.7 L369.9,137.8 L370.6,137.8 L371.3,137.8 L372.0,136.0 L372.7,138.0 L373.4,137.9 L374.1,137.6 L374.8,135.5 L375.5,135.1 L376.2,135.6 L376.9,137.7 L377.6,137.9 L378.3,137.8 L379.0,137.9 L379.7,137.2 L380.4,138.0 L381.1,138.0 L381.8,138.0 L382.5,137.7 L383.2,136.8 L383.9,137.2 L384.6,131.1 L385.3,129.2 L386.0,127.3 L386.7,130.5 L387.4,126.3 L388.1,130.2 L388.8,126.8 L389.5,125.2 L390.2,131.2 L390.9,132.7 L391.6,131.2 L392.3,134.2 L393.0,134.9 L393.7,134.6 L394.4,134.7 L395.1,134.4 L395.8,133.6 L396.5,135.2 L397.2,136.3 L397.9,135.2 L398.6,136.3 L399.3,135.2 L400.0,136.3 L400.7,137.9 L401.4,136.3 L402.1,136.4 L402.8,137.3 L403.5,135.9 L404.2,137.2 L404.9,137.1 L405.6,137.0 L406.3,137.2 L407.0,136.7 L407.7,136.4 L408.4,136.7 L409.1,136.4 L409.8,138.0 L410.5,137.1 L411.2,137.9 L411.9,137.9 L412.6,137.7 L413.3,137.8 L414.0,137.6 L414.7,136.9 L415.4,137.7 L416.1,138.0 L416.8,137.9 L417.5,137.7 L418.2,137.8 L418.9,137.8 L419.6,135.5 L420.3,137.9 L421.0,137.9 L421.7,137.9 L422.4,137.8 L423.1,137.7 L423.8,138.0 L424.5,138.0 L425.2,137.7 L425.9,137.7 L426.6,137.7 L427.3,137.7 L428.0,137.8 L428.7,138.0 L429.4,135.7 L430.1,137.0 L430.8,137.9 L431.5,137.8 L432.2,137.6 L432.9,137.8 L433.6,137.7 L434.3,138.0 L435.0,137.7 L435.7,137.9 L436.4,137.9 L437.1,135.8 L437.8,137.4 L438.5,137.9 L439.2,137.8 L439.9,136.9 L440.6,137.1 L441.3,137.8 L442.0,137.9 L442.7,138.0 L443.4,137.7 L444.1,137.8 L444.8,137.7 L445.5,137.7 L446.2,137.9 L446.9,137.7 L447.6,137.9 L448.3,137.8 L449.0,137.7 L449.7,137.7 L450.4,137.9 L451.1,137.7 L451.8,137.8 L452.5,137.7 L453.2,136.3 L453.9,137.4 L454.6,137.9 L455.3,137.9 L456.0,137.9 L456.7,136.9 L457.4,137.7 L458.1,136.0 L458.8,136.0 L459.5,136.0 L460.2,137.8 L460.9,137.3 L461.6,137.7 L462.3,137.9 L463.0,137.9 L463.7,135.8 L464.4,137.7 L465.1,137.8 L465.8,137.9 L466.5,137.8 L467.2,137.9 L467.9,137.5 L468.6,137.2 L469.3,137.8 L470.0,136.8 L470.7,137.7 L471.4,137.8 L472.1,137.8 L472.8,136.8 L473.5,137.9 L474.2,137.9 L474.9,137.3 L475.6,136.8 L476.3,136.7 L477.0,136.8 L477.7,137.5 L478.4,136.8 L479.1,138.0 L479.8,137.4 L480.5,138.0 L481.2,137.8 L481.9,137.8 L482.6,137.2 L483.3,136.1 L484.0,135.9 L484.7,137.9 L485.4,136.9 L486.1,137.8 L486.8,137.9 L487.5,137.6 L487.7,138.0 Z" fill="#1d9fcb" stroke="#1d9fcb" stroke-width="0.3"/>
<line x1="328.60" y1="138.00" x2="487.70" y2="138.00" stroke="#1d9fcb" stroke-width="0.7" />
<text x="471.20" y="129.90" font-size="5.8" textLength="23.20" lengthAdjust="spacingAndGlyphs" fill="#333" stroke="#333" stroke-width="0.072" >[0 - 0.29]</text>
<text x="326.80" y="148.30" font-size="6.1" text-anchor="end" fill="#333" stroke="#333" stroke-width="0.076" >CBX7</text>
<path d="M328.6,155.2 L328.6,154.9 L329.3,154.8 L330.0,154.2 L330.7,154.9 L331.4,154.2 L332.1,154.9 L332.8,155.0 L333.5,154.5 L334.2,154.2 L334.9,155.2 L335.6,154.4 L336.3,152.6 L337.0,152.4 L337.7,152.5 L338.4,154.8 L339.1,155.1 L339.8,155.2 L340.5,152.6 L341.2,152.7 L341.9,152.5 L342.6,152.6 L343.3,155.2 L344.0,155.1 L344.7,155.0 L345.4,152.1 L346.1,155.1 L346.8,154.8 L347.5,155.1 L348.2,155.1 L348.9,154.9 L349.6,154.8 L350.3,154.8 L351.0,154.1 L351.7,154.1 L352.4,154.1 L353.1,154.2 L353.8,155.0 L354.5,154.2 L355.2,155.1 L355.9,155.1 L356.6,155.2 L357.3,154.2 L358.0,155.1 L358.7,155.0 L359.4,155.0 L360.1,155.0 L360.8,154.1 L361.5,155.2 L362.2,154.4 L362.9,155.2 L363.6,154.7 L364.3,154.9 L365.0,154.6 L365.7,155.1 L366.4,155.0 L367.1,154.9 L367.8,154.9 L368.5,155.1 L369.2,155.0 L369.9,154.8 L370.6,155.0 L371.3,155.0 L372.0,154.2 L372.7,154.8 L373.4,155.2 L374.1,155.0 L374.8,155.1 L375.5,155.1 L376.2,155.1 L376.9,155.0 L377.6,154.0 L378.3,154.0 L379.0,153.9 L379.7,153.9 L380.4,154.9 L381.1,154.9 L381.8,155.2 L382.5,149.3 L383.2,145.3 L383.9,146.1 L384.6,144.7 L385.3,141.2 L386.0,142.0 L386.7,141.3 L387.4,146.2 L388.1,151.6 L388.8,150.9 L389.5,150.4 L390.2,152.2 L390.9,150.9 L391.6,150.2 L392.3,152.1 L393.0,151.4 L393.7,151.9 L394.4,150.9 L395.1,147.1 L395.8,149.7 L396.5,147.9 L397.2,147.6 L397.9,149.3 L398.6,154.6 L399.3,154.1 L400.0,154.9 L400.7,155.1 L401.4,155.1 L402.1,155.0 L402.8,154.8 L403.5,154.4 L404.2,155.1 L404.9,154.9 L405.6,152.6 L406.3,152.7 L407.0,153.1 L407.7,153.1 L408.4,154.6 L409.1,154.9 L409.8,154.2 L410.5,155.0 L411.2,154.0 L411.9,155.2 L412.6,155.1 L413.3,154.9 L414.0,155.2 L414.7,155.1 L415.4,154.9 L416.1,155.1 L416.8,154.7 L417.5,155.2 L418.2,155.1 L418.9,155.2 L419.6,154.9 L420.3,155.0 L421.0,155.0 L421.7,155.0 L422.4,155.0 L423.1,155.0 L423.8,154.7 L424.5,154.9 L425.2,155.0 L425.9,154.9 L426.6,154.9 L427.3,155.0 L428.0,155.1 L428.7,151.8 L429.4,154.9 L430.1,154.9 L430.8,155.2 L431.5,154.9 L432.2,155.2 L432.9,154.9 L433.6,155.0 L434.3,154.9 L435.0,155.2 L435.7,155.0 L436.4,152.5 L437.1,155.1 L437.8,154.8 L438.5,154.9 L439.2,155.1 L439.9,154.9 L440.6,155.1 L441.3,154.4 L442.0,155.1 L442.7,154.9 L443.4,153.1 L444.1,152.9 L444.8,153.3 L445.5,154.6 L446.2,155.0 L446.9,154.9 L447.6,155.0 L448.3,155.2 L449.0,155.0 L449.7,152.6 L450.4,155.2 L451.1,155.0 L451.8,155.0 L452.5,155.1 L453.2,155.0 L453.9,155.0 L454.6,154.9 L455.3,154.5 L456.0,154.3 L456.7,155.1 L457.4,155.2 L458.1,154.9 L458.8,155.0 L459.5,155.1 L460.2,155.0 L460.9,154.0 L461.6,154.9 L462.3,154.3 L463.0,155.0 L463.7,154.9 L464.4,154.9 L465.1,154.9 L465.8,154.9 L466.5,155.0 L467.2,155.0 L467.9,154.4 L468.6,155.1 L469.3,154.1 L470.0,154.0 L470.7,154.0 L471.4,155.1 L472.1,155.0 L472.8,155.0 L473.5,155.1 L474.2,155.0 L474.9,154.6 L475.6,154.9 L476.3,155.1 L477.0,154.4 L477.7,154.8 L478.4,154.1 L479.1,154.9 L479.8,152.6 L480.5,153.0 L481.2,154.8 L481.9,154.9 L482.6,155.2 L483.3,154.9 L484.0,152.6 L484.7,155.2 L485.4,155.0 L486.1,155.1 L486.8,154.9 L487.5,154.7 L487.7,155.2 Z" fill="#8c86c4" stroke="#8c86c4" stroke-width="0.3"/>
<line x1="328.60" y1="155.20" x2="487.70" y2="155.20" stroke="#8c86c4" stroke-width="0.7" />
<text x="471.20" y="146.60" font-size="5.8" textLength="23.20" lengthAdjust="spacingAndGlyphs" fill="#333" stroke="#333" stroke-width="0.072" >[0 - 0.55]</text>
<text x="326.80" y="165.80" font-size="6.1" text-anchor="end" fill="#333" stroke="#333" stroke-width="0.076" >CBX8</text>
<path d="M328.6,174.5 L328.6,174.4 L329.3,174.4 L330.0,174.5 L330.7,174.2 L331.4,174.2 L332.1,174.5 L332.8,174.4 L333.5,174.4 L334.2,174.4 L334.9,174.2 L335.6,174.4 L336.3,174.2 L337.0,174.2 L337.7,173.1 L338.4,174.4 L339.1,174.4 L339.8,174.2 L340.5,172.8 L341.2,172.8 L341.9,172.8 L342.6,172.8 L343.3,174.4 L344.0,174.3 L344.7,173.7 L345.4,174.4 L346.1,174.0 L346.8,174.2 L347.5,173.7 L348.2,174.3 L348.9,174.5 L349.6,174.3 L350.3,174.3 L351.0,173.7 L351.7,173.5 L352.4,174.3 L353.1,174.4 L353.8,174.4 L354.5,174.2 L355.2,174.2 L355.9,173.5 L356.6,173.6 L357.3,174.2 L358.0,174.1 L358.7,174.5 L359.4,173.3 L360.1,174.4 L360.8,174.2 L361.5,172.8 L362.2,173.1 L362.9,174.2 L363.6,173.6 L364.3,173.7 L365.0,174.2 L365.7,174.4 L366.4,174.4 L367.1,174.2 L367.8,174.2 L368.5,174.3 L369.2,174.2 L369.9,173.9 L370.6,174.3 L371.3,174.4 L372.0,173.7 L372.7,174.1 L373.4,174.4 L374.1,174.4 L374.8,174.5 L375.5,174.2 L376.2,172.9 L376.9,174.0 L377.6,174.0 L378.3,173.3 L379.0,174.4 L379.7,173.9 L380.4,173.8 L381.1,173.2 L381.8,161.9 L382.5,165.1 L383.2,162.9 L383.9,165.8 L384.6,160.1 L385.3,161.8 L386.0,162.7 L386.7,168.4 L387.4,166.0 L388.1,165.3 L388.8,171.3 L389.5,169.8 L390.2,169.7 L390.9,170.7 L391.6,171.2 L392.3,169.9 L393.0,171.2 L393.7,172.2 L394.4,171.7 L395.1,170.7 L395.8,172.1 L396.5,170.7 L397.2,166.3 L397.9,168.6 L398.6,165.2 L399.3,168.7 L400.0,168.3 L400.7,174.5 L401.4,174.4 L402.1,174.2 L402.8,174.1 L403.5,174.3 L404.2,173.4 L404.9,174.3 L405.6,174.3 L406.3,174.4 L407.0,174.5 L407.7,174.4 L408.4,173.5 L409.1,174.3 L409.8,174.1 L410.5,173.9 L411.2,173.9 L411.9,174.4 L412.6,174.3 L413.3,173.7 L414.0,174.3 L414.7,173.9 L415.4,174.2 L416.1,174.4 L416.8,174.3 L417.5,174.5 L418.2,174.2 L418.9,174.1 L419.6,174.4 L420.3,172.6 L421.0,172.7 L421.7,174.4 L422.4,174.4 L423.1,174.2 L423.8,174.2 L424.5,174.3 L425.2,174.2 L425.9,174.3 L426.6,174.2 L427.3,174.5 L428.0,173.8 L428.7,174.4 L429.4,174.4 L430.1,174.5 L430.8,174.4 L431.5,174.2 L432.2,174.5 L432.9,173.2 L433.6,174.3 L434.3,173.2 L435.0,174.3 L435.7,174.2 L436.4,174.5 L437.1,174.5 L437.8,174.5 L438.5,174.3 L439.2,174.1 L439.9,174.4 L440.6,174.4 L441.3,173.7 L442.0,174.3 L442.7,174.4 L443.4,174.3 L444.1,173.3 L444.8,173.9 L445.5,174.2 L446.2,174.4 L446.9,174.3 L447.6,174.4 L448.3,174.4 L449.0,174.2 L449.7,173.4 L450.4,174.2 L451.1,174.3 L451.8,174.2 L452.5,174.2 L453.2,174.3 L453.9,174.2 L454.6,174.2 L455.3,174.2 L456.0,173.4 L456.7,174.2 L457.4,173.4 L458.1,174.4 L458.8,174.4 L459.5,174.2 L460.2,174.3 L460.9,174.4 L461.6,174.4 L462.3,174.4 L463.0,174.4 L463.7,174.2 L464.4,174.4 L465.1,174.4 L465.8,174.3 L466.5,174.3 L467.2,174.0 L467.9,174.4 L468.6,173.9 L469.3,174.1 L470.0,174.2 L470.7,174.2 L471.4,174.3 L472.1,173.9 L472.8,174.3 L473.5,174.1 L474.2,173.1 L474.9,174.3 L475.6,174.5 L476.3,173.7 L477.0,174.3 L477.7,174.5 L478.4,174.4 L479.1,174.1 L479.8,174.2 L480.5,174.3 L481.2,171.4 L481.9,172.5 L482.6,174.3 L483.3,173.4 L484.0,173.5 L484.7,173.3 L485.4,174.4 L486.1,174.5 L486.8,173.7 L487.5,174.3 L487.7,174.5 Z" fill="#721462" stroke="#721462" stroke-width="0.3"/>
<line x1="328.60" y1="174.50" x2="487.70" y2="174.50" stroke="#721462" stroke-width="0.7" />
<text x="471.20" y="164.00" font-size="5.8" textLength="23.20" lengthAdjust="spacingAndGlyphs" fill="#333" stroke="#333" stroke-width="0.072" >[0 - 0.81]</text>
<text x="6.30" y="206.50" font-size="11" font-weight="bold" fill="#111" >C</text>
<text x="15.70" y="219.00" font-size="8.2" textLength="100.10" lengthAdjust="spacingAndGlyphs" stroke="#2a2a2a" stroke-width="0.102" >HUDEP2 cells immunoblot</text>
<line x1="15.70" y1="219.90" x2="115.80" y2="219.90" stroke="#555" stroke-width="0.55" />
<text x="47.40" y="285.60" font-size="6.3" textLength="17.50" lengthAdjust="spacingAndGlyphs" stroke="#2a2a2a" stroke-width="0.079" transform="rotate(-53 47.40 285.60)" >sgNeg</text>
<text x="60.60" y="285.60" font-size="6.3" textLength="71.00" lengthAdjust="spacingAndGlyphs" stroke="#2a2a2a" stroke-width="0.079" transform="rotate(-53 60.60 285.60)" >sg(CBX2 + CBX4 + CBX8)</text>
<text x="26.60" y="286.00" font-size="6.3" textLength="11.30" lengthAdjust="spacingAndGlyphs" stroke="#2a2a2a" stroke-width="0.079" >kDa</text>
<rect x="44.00" y="287.20" width="24.00" height="93.50" fill="#fff" />
<rect x="44.20" y="287.10" width="23.60" height="11.60" fill="#3c3c3c" />
<rect x="44.80" y="287.80" width="22.40" height="10.20" fill="#c6b9ae" />
<g filter="url(#bl2)" fill="#1a1a1a">
<ellipse cx="49.6" cy="292.6" rx="3.9" ry="0.8" opacity="1"/>
<ellipse cx="61.5" cy="292.6" rx="4.2" ry="0.8" opacity="1"/>
</g>
<text x="38.40" y="295.30" font-size="6.8" text-anchor="end" stroke="#2a2a2a" stroke-width="0.085" >62</text>
<line x1="41.20" y1="292.90" x2="43.80" y2="292.90" stroke="#333" stroke-width="0.7" />
<text x="71.30" y="294.90" font-size="6.6" textLength="24.70" lengthAdjust="spacingAndGlyphs" fill="#333" stroke="#333" stroke-width="0.083" >Lamin B1</text>
<rect x="44.20" y="299.40" width="23.60" height="10.30" fill="#3c3c3c" />
<rect x="44.80" y="300.10" width="22.40" height="8.90" fill="#d9d9d9" />
<g filter="url(#bl2)" fill="#1a1a1a">
<ellipse cx="49.6" cy="304.6" rx="3.9" ry="1.1" opacity="0.95"/>
</g>
<text x="38.40" y="306.95" font-size="6.8" text-anchor="end" stroke="#2a2a2a" stroke-width="0.085" >62</text>
<line x1="41.20" y1="304.55" x2="43.80" y2="304.55" stroke="#333" stroke-width="0.7" />
<text x="71.30" y="306.55" font-size="6.6" textLength="15.90" lengthAdjust="spacingAndGlyphs" fill="#333" stroke="#333" stroke-width="0.083" >CBX2</text>
<rect x="44.20" y="310.10" width="23.60" height="10.40" fill="#3c3c3c" />
<rect x="44.80" y="310.80" width="22.40" height="9.00" fill="#d2d2d2" />
<g filter="url(#bl2)" fill="#1a1a1a">
<ellipse cx="49.3" cy="315.1" rx="3.6" ry="0.7" opacity="0.75"/>
</g>
<text x="38.40" y="317.70" font-size="6.8" text-anchor="end" stroke="#2a2a2a" stroke-width="0.085" >62</text>
<line x1="41.20" y1="315.30" x2="43.80" y2="315.30" stroke="#333" stroke-width="0.7" />
<text x="71.30" y="317.30" font-size="6.6" textLength="15.90" lengthAdjust="spacingAndGlyphs" fill="#333" stroke="#333" stroke-width="0.083" >CBX4</text>
<rect x="44.20" y="321.50" width="23.60" height="10.80" fill="#3c3c3c" />
<rect x="44.80" y="322.20" width="22.40" height="9.40" fill="#d4d4d4" />
<g filter="url(#bl2)" fill="#1a1a1a">
<ellipse cx="49.6" cy="326.6" rx="3.8" ry="0.8" opacity="0.9"/>
</g>
<text x="38.40" y="329.30" font-size="6.8" text-anchor="end" stroke="#2a2a2a" stroke-width="0.085" >49</text>
<line x1="41.20" y1="326.90" x2="43.80" y2="326.90" stroke="#333" stroke-width="0.7" />
<text x="71.30" y="328.90" font-size="6.6" textLength="15.90" lengthAdjust="spacingAndGlyphs" fill="#333" stroke="#333" stroke-width="0.083" >CBX8</text>
<rect x="44.20" y="332.40" width="23.60" height="10.60" fill="#3c3c3c" />
<rect x="44.80" y="333.10" width="22.40" height="9.20" fill="#e0dcd5" />
<g filter="url(#bl2)" fill="#1a1a1a">
<ellipse cx="49.8" cy="338.5" rx="3.8" ry="0.5" opacity="0.25"/>
<ellipse cx="61.8" cy="338.5" rx="4.0" ry="0.9" opacity="1"/>
</g>
<text x="38.40" y="340.10" font-size="6.8" text-anchor="end" stroke="#2a2a2a" stroke-width="0.085" >75</text>
<line x1="41.20" y1="337.70" x2="43.80" y2="337.70" stroke="#333" stroke-width="0.7" />
<text x="71.30" y="339.70" font-size="6.6" textLength="23.80" lengthAdjust="spacingAndGlyphs" fill="#333" stroke="#333" stroke-width="0.083" >IGF2BP1</text>
<rect x="44.20" y="343.90" width="23.60" height="10.80" fill="#3c3c3c" />
<rect x="44.80" y="344.60" width="22.40" height="9.40" fill="#d6cfc6" />
<g filter="url(#bl2)" fill="#1a1a1a">
<ellipse cx="50.3" cy="349.6" rx="4.3" ry="1.1" opacity="1"/>
<ellipse cx="61.6" cy="349.6" rx="4.3" ry="1.1" opacity="1"/>
</g>
<text x="38.40" y="351.70" font-size="6.8" text-anchor="end" stroke="#2a2a2a" stroke-width="0.085" >50</text>
<line x1="41.20" y1="349.30" x2="43.80" y2="349.30" stroke="#333" stroke-width="0.7" />
<text x="71.30" y="351.30" font-size="6.6" textLength="18.80" lengthAdjust="spacingAndGlyphs" fill="#333" stroke="#333" stroke-width="0.083" >β-actin</text>
<rect x="44.20" y="355.30" width="23.60" height="14.60" fill="#3c3c3c" />
<rect x="44.80" y="356.00" width="22.40" height="13.20" fill="#bdb5ac" />
<g filter="url(#bl2)" fill="#1a1a1a">
<ellipse cx="55.5" cy="365.3" rx="0.7" ry="0.7" opacity="0.8"/>
</g>
<rect x="58.5" y="365.4" width="0.8" height="0.8" fill="#9a928a" opacity="0.6"/>
<rect x="63.2" y="365.9" width="0.8" height="0.8" fill="#a8a098" opacity="0.6"/>
<rect x="59.1" y="367.4" width="0.8" height="0.8" fill="#9a928a" opacity="0.6"/>
<rect x="53.2" y="367.0" width="0.8" height="0.8" fill="#8a827a" opacity="0.6"/>
<rect x="56.8" y="363.4" width="0.8" height="0.8" fill="#9a928a" opacity="0.6"/>
<rect x="60.8" y="361.4" width="0.8" height="0.8" fill="#a8a098" opacity="0.6"/>
<rect x="64.8" y="365.7" width="0.8" height="0.8" fill="#a8a098" opacity="0.6"/>
<rect x="61.5" y="357.3" width="0.8" height="0.8" fill="#8a827a" opacity="0.6"/>
<rect x="47.9" y="356.4" width="0.8" height="0.8" fill="#9a928a" opacity="0.6"/>
<rect x="49.7" y="359.0" width="0.8" height="0.8" fill="#a8a098" opacity="0.6"/>
<rect x="63.9" y="359.9" width="0.8" height="0.8" fill="#a8a098" opacity="0.6"/>
<rect x="56.7" y="364.7" width="0.8" height="0.8" fill="#a8a098" opacity="0.6"/>
<rect x="49.1" y="368.2" width="0.8" height="0.8" fill="#a8a098" opacity="0.6"/>
<rect x="65.9" y="367.3" width="0.8" height="0.8" fill="#e0d8d0" opacity="0.6"/>
<rect x="45.7" y="361.5" width="0.8" height="0.8" fill="#a8a098" opacity="0.6"/>
<rect x="50.8" y="360.4" width="0.8" height="0.8" fill="#9a928a" opacity="0.6"/>
<rect x="58.0" y="365.0" width="0.8" height="0.8" fill="#9a928a" opacity="0.6"/>
<rect x="51.8" y="366.4" width="0.8" height="0.8" fill="#8a827a" opacity="0.6"/>
<rect x="60.1" y="358.7" width="0.8" height="0.8" fill="#8a827a" opacity="0.6"/>
<rect x="60.3" y="357.1" width="0.8" height="0.8" fill="#9a928a" opacity="0.6"/>
<rect x="65.5" y="360.8" width="0.8" height="0.8" fill="#8a827a" opacity="0.6"/>
<rect x="45.6" y="366.0" width="0.8" height="0.8" fill="#e0d8d0" opacity="0.6"/>
<rect x="53.3" y="366.7" width="0.8" height="0.8" fill="#8a827a" opacity="0.6"/>
<rect x="46.2" y="358.6" width="0.8" height="0.8" fill="#a8a098" opacity="0.6"/>
<rect x="47.7" y="359.4" width="0.8" height="0.8" fill="#8a827a" opacity="0.6"/>
<rect x="52.6" y="360.7" width="0.8" height="0.8" fill="#e0d8d0" opacity="0.6"/>
<rect x="61.8" y="357.7" width="0.8" height="0.8" fill="#e0d8d0" opacity="0.6"/>
<rect x="63.6" y="356.8" width="0.8" height="0.8" fill="#9a928a" opacity="0.6"/>
<rect x="49.7" y="362.7" width="0.8" height="0.8" fill="#e0d8d0" opacity="0.6"/>
<rect x="64.8" y="360.5" width="0.8" height="0.8" fill="#9a928a" opacity="0.6"/>
<rect x="51.9" y="360.3" width="0.8" height="0.8" fill="#a8a098" opacity="0.6"/>
<rect x="62.3" y="364.0" width="0.8" height="0.8" fill="#e0d8d0" opacity="0.6"/>
<rect x="66.5" y="358.4" width="0.8" height="0.8" fill="#9a928a" opacity="0.6"/>
<rect x="46.9" y="363.7" width="0.8" height="0.8" fill="#8a827a" opacity="0.6"/>
<rect x="45.9" y="365.4" width="0.8" height="0.8" fill="#e0d8d0" opacity="0.6"/>
<rect x="62.9" y="362.0" width="0.8" height="0.8" fill="#8a827a" opacity="0.6"/>
<rect x="48.3" y="368.3" width="0.8" height="0.8" fill="#9a928a" opacity="0.6"/>
<rect x="62.4" y="360.5" width="0.8" height="0.8" fill="#a8a098" opacity="0.6"/>
<rect x="48.0" y="365.3" width="0.8" height="0.8" fill="#a8a098" opacity="0.6"/>
<rect x="58.7" y="366.0" width="0.8" height="0.8" fill="#9a928a" opacity="0.6"/>
<rect x="48.8" y="361.0" width="0.8" height="0.8" fill="#9a928a" opacity="0.6"/>
<rect x="63.3" y="360.0" width="0.8" height="0.8" fill="#8a827a" opacity="0.6"/>
<rect x="64.9" y="364.0" width="0.8" height="0.8" fill="#a8a098" opacity="0.6"/>
<rect x="66.1" y="361.9" width="0.8" height="0.8" fill="#8a827a" opacity="0.6"/>
<rect x="59.9" y="360.3" width="0.8" height="0.8" fill="#e0d8d0" opacity="0.6"/>
<rect x="51.4" y="361.3" width="0.8" height="0.8" fill="#a8a098" opacity="0.6"/>
<rect x="47.6" y="366.4" width="0.8" height="0.8" fill="#a8a098" opacity="0.6"/>
<rect x="58.6" y="362.5" width="0.8" height="0.8" fill="#e0d8d0" opacity="0.6"/>
<rect x="49.1" y="362.4" width="0.8" height="0.8" fill="#e0d8d0" opacity="0.6"/>
<rect x="46.6" y="366.1" width="0.8" height="0.8" fill="#e0d8d0" opacity="0.6"/>
<rect x="60.1" y="364.5" width="0.8" height="0.8" fill="#e0d8d0" opacity="0.6"/>
<rect x="53.0" y="365.0" width="0.8" height="0.8" fill="#e0d8d0" opacity="0.6"/>
<rect x="63.1" y="359.6" width="0.8" height="0.8" fill="#e0d8d0" opacity="0.6"/>
<rect x="65.7" y="360.5" width="0.8" height="0.8" fill="#a8a098" opacity="0.6"/>
<rect x="57.6" y="356.5" width="0.8" height="0.8" fill="#e0d8d0" opacity="0.6"/>
<rect x="52.2" y="359.7" width="0.8" height="0.8" fill="#e0d8d0" opacity="0.6"/>
<rect x="62.7" y="364.3" width="0.8" height="0.8" fill="#e0d8d0" opacity="0.6"/>
<rect x="52.6" y="364.3" width="0.8" height="0.8" fill="#8a827a" opacity="0.6"/>
<rect x="52.7" y="366.7" width="0.8" height="0.8" fill="#8a827a" opacity="0.6"/>
<rect x="66.1" y="368.1" width="0.8" height="0.8" fill="#a8a098" opacity="0.6"/>
<rect x="56.5" y="358.4" width="0.8" height="0.8" fill="#e0d8d0" opacity="0.6"/>
<rect x="65.3" y="362.2" width="0.8" height="0.8" fill="#9a928a" opacity="0.6"/>
<rect x="60.6" y="365.3" width="0.8" height="0.8" fill="#a8a098" opacity="0.6"/>
<rect x="58.4" y="367.8" width="0.8" height="0.8" fill="#8a827a" opacity="0.6"/>
<rect x="51.7" y="363.1" width="0.8" height="0.8" fill="#e0d8d0" opacity="0.6"/>
<rect x="60.6" y="356.7" width="0.8" height="0.8" fill="#a8a098" opacity="0.6"/>
<rect x="57.7" y="364.0" width="0.8" height="0.8" fill="#a8a098" opacity="0.6"/>
<rect x="49.9" y="364.8" width="0.8" height="0.8" fill="#9a928a" opacity="0.6"/>
<rect x="66.3" y="368.4" width="0.8" height="0.8" fill="#a8a098" opacity="0.6"/>
<rect x="46.4" y="358.0" width="0.8" height="0.8" fill="#e0d8d0" opacity="0.6"/>
<rect x="65.9" y="362.3" width="0.8" height="0.8" fill="#9a928a" opacity="0.6"/>
<rect x="54.1" y="360.7" width="0.8" height="0.8" fill="#9a928a" opacity="0.6"/>
<rect x="57.8" y="359.3" width="0.8" height="0.8" fill="#e0d8d0" opacity="0.6"/>
<rect x="45.2" y="361.3" width="0.8" height="0.8" fill="#e0d8d0" opacity="0.6"/>
<rect x="63.5" y="367.0" width="0.8" height="0.8" fill="#e0d8d0" opacity="0.6"/>
<rect x="65.8" y="363.1" width="0.8" height="0.8" fill="#e0d8d0" opacity="0.6"/>
<rect x="47.2" y="363.1" width="0.8" height="0.8" fill="#e0d8d0" opacity="0.6"/>
<rect x="65.6" y="360.0" width="0.8" height="0.8" fill="#e0d8d0" opacity="0.6"/>
<rect x="62.7" y="361.5" width="0.8" height="0.8" fill="#e0d8d0" opacity="0.6"/>
<rect x="55.2" y="358.3" width="0.8" height="0.8" fill="#8a827a" opacity="0.6"/>
<rect x="57.3" y="368.1" width="0.8" height="0.8" fill="#a8a098" opacity="0.6"/>
<rect x="58.2" y="360.7" width="0.8" height="0.8" fill="#9a928a" opacity="0.6"/>
<rect x="53.4" y="360.4" width="0.8" height="0.8" fill="#a8a098" opacity="0.6"/>
<rect x="52.2" y="367.1" width="0.8" height="0.8" fill="#8a827a" opacity="0.6"/>
<rect x="54.4" y="368.3" width="0.8" height="0.8" fill="#8a827a" opacity="0.6"/>
<rect x="51.4" y="368.3" width="0.8" height="0.8" fill="#8a827a" opacity="0.6"/>
<rect x="53.4" y="366.8" width="0.8" height="0.8" fill="#a8a098" opacity="0.6"/>
<rect x="58.0" y="359.6" width="0.8" height="0.8" fill="#e0d8d0" opacity="0.6"/>
<rect x="55.8" y="361.5" width="0.8" height="0.8" fill="#e0d8d0" opacity="0.6"/>
<rect x="65.4" y="360.2" width="0.8" height="0.8" fill="#e0d8d0" opacity="0.6"/>
<text x="38.40" y="365.00" font-size="6.8" text-anchor="end" stroke="#2a2a2a" stroke-width="0.085" >37</text>
<line x1="41.20" y1="362.60" x2="43.80" y2="362.60" stroke="#333" stroke-width="0.7" />
<text x="71.30" y="364.60" font-size="6.6" textLength="20.70" lengthAdjust="spacingAndGlyphs" fill="#333" stroke="#333" stroke-width="0.083" >LIN28B</text>
<rect x="44.20" y="371.10" width="23.60" height="10.00" fill="#3c3c3c" />
<rect x="44.80" y="371.80" width="22.40" height="8.60" fill="#d2cac2" />
<g filter="url(#bl2)" fill="#1a1a1a">
<ellipse cx="62.0" cy="376.4" rx="4.2" ry="1.3" opacity="1"/>
</g>
<text x="38.40" y="378.50" font-size="6.8" text-anchor="end" stroke="#2a2a2a" stroke-width="0.085" >15</text>
<line x1="41.20" y1="376.10" x2="43.80" y2="376.10" stroke="#333" stroke-width="0.7" />
<text x="71.30" y="378.10" font-size="6.6" textLength="22.60" lengthAdjust="spacingAndGlyphs" fill="#333" stroke="#333" stroke-width="0.083" >γ-globin</text>
<path d="M27.8,289.2 H25.6 V330.2 H27.8" fill="none" stroke="#333" stroke-width="0.7"/>
<path d="M27.8,335.0 H25.6 V378.2 H27.8" fill="none" stroke="#333" stroke-width="0.7"/>
<text x="20.50" y="330.20" font-size="8.0" textLength="40.00" lengthAdjust="spacingAndGlyphs" stroke="#2a2a2a" stroke-width="0.100" transform="rotate(-90 20.50 330.20)" >Nuclear extract</text>
<text x="20.50" y="382.00" font-size="8.0" textLength="47.50" lengthAdjust="spacingAndGlyphs" stroke="#2a2a2a" stroke-width="0.100" transform="rotate(-90 20.50 382.00)" >Whole cell lysate</text>
<text x="63.70" y="386.70" font-size="5.8" textLength="33.60" lengthAdjust="spacingAndGlyphs" stroke="#2a2a2a" stroke-width="0.072" >*non-specific</text>
<text x="126.70" y="207.10" font-size="11" font-weight="bold" fill="#111" >D</text>
<text x="143.20" y="220.60" font-size="8.2" textLength="141.80" lengthAdjust="spacingAndGlyphs" stroke="#2a2a2a" stroke-width="0.102" >BMI1 depletion upregulated genes in</text>
<line x1="143.20" y1="221.80" x2="285.00" y2="221.80" stroke="#555" stroke-width="0.55" />
<text x="125.00" y="230.50" font-size="8.2" textLength="176.10" lengthAdjust="spacingAndGlyphs" stroke="#2a2a2a" stroke-width="0.102" >sg(CBX2 + CBX4 + CBX8) vs. sgNeg RNA-seq</text>
<line x1="125.00" y1="232.10" x2="302.90" y2="232.10" stroke="#555" stroke-width="0.55" />
<line x1="180.80" y1="258.00" x2="180.80" y2="304.60" stroke="#e8e8e8" stroke-width="0.35" />
<line x1="180.80" y1="329.00" x2="180.80" y2="353.50" stroke="#e8e8e8" stroke-width="0.35" />
<line x1="197.70" y1="258.00" x2="197.70" y2="304.60" stroke="#e8e8e8" stroke-width="0.35" />
<line x1="197.70" y1="329.00" x2="197.70" y2="353.50" stroke="#e8e8e8" stroke-width="0.35" />
<line x1="214.60" y1="258.00" x2="214.60" y2="304.60" stroke="#e8e8e8" stroke-width="0.35" />
<line x1="214.60" y1="329.00" x2="214.60" y2="353.50" stroke="#e8e8e8" stroke-width="0.35" />
<line x1="231.50" y1="258.00" x2="231.50" y2="304.60" stroke="#e8e8e8" stroke-width="0.35" />
<line x1="231.50" y1="329.00" x2="231.50" y2="353.50" stroke="#e8e8e8" stroke-width="0.35" />
<line x1="248.40" y1="258.00" x2="248.40" y2="304.60" stroke="#e8e8e8" stroke-width="0.35" />
<line x1="248.40" y1="329.00" x2="248.40" y2="353.50" stroke="#e8e8e8" stroke-width="0.35" />
<line x1="163.80" y1="258.50" x2="163.80" y2="305.00" stroke="#1a1a1a" stroke-width="1.0" />
<line x1="160.20" y1="268.60" x2="163.40" y2="268.60" stroke="#333" stroke-width="0.7" />
<text x="158.40" y="270.80" font-size="6.6" text-anchor="end" stroke="#2a2a2a" stroke-width="0.083" >0.75</text>
<line x1="160.20" y1="280.60" x2="163.40" y2="280.60" stroke="#333" stroke-width="0.7" />
<text x="158.40" y="282.80" font-size="6.6" text-anchor="end" stroke="#2a2a2a" stroke-width="0.083" >0.50</text>
<line x1="160.20" y1="292.60" x2="163.40" y2="292.60" stroke="#333" stroke-width="0.7" />
<text x="158.40" y="294.80" font-size="6.6" text-anchor="end" stroke="#2a2a2a" stroke-width="0.083" >0.25</text>
<line x1="160.20" y1="304.60" x2="163.40" y2="304.60" stroke="#333" stroke-width="0.7" />
<text x="158.40" y="306.80" font-size="6.6" text-anchor="end" stroke="#2a2a2a" stroke-width="0.083" >0</text>
<path d="M164.2,304.6 C165,290 166,268 167.5,262.5 C168.5,259.5 170.5,259.8 172,260.2 L264.2,304.2" fill="none" stroke="#4caa4c" stroke-width="0.9"/>
<text x="196.90" y="265.30" font-size="6.0" textLength="26.00" lengthAdjust="spacingAndGlyphs" stroke="#2a2a2a" stroke-width="0.075" >NES = 3.4</text>
<text x="196.9" y="272.1" font-size="5.5" fill="#2a2a2a"><tspan textLength="54.5" lengthAdjust="spacingAndGlyphs">FDR = 4.507129 × 10</tspan><tspan font-size="4.0" dy="-2.3">−115</tspan></text>
<rect x="164.2" y="306.8" width="10.6" height="15.4" fill="#111"/>
<line x1="176.20" y1="306.80" x2="176.20" y2="322.20" stroke="#333" stroke-width="0.7" />
<line x1="179.60" y1="306.80" x2="179.60" y2="322.20" stroke="#333" stroke-width="0.7" />
<line x1="182.30" y1="306.80" x2="182.30" y2="322.20" stroke="#333" stroke-width="0.7" />
<line x1="188.50" y1="306.80" x2="188.50" y2="322.20" stroke="#333" stroke-width="0.7" />
<line x1="191.20" y1="306.80" x2="191.20" y2="322.20" stroke="#333" stroke-width="0.7" />
<line x1="199.30" y1="306.80" x2="199.30" y2="322.20" stroke="#333" stroke-width="0.7" />
<line x1="204.00" y1="306.80" x2="204.00" y2="322.20" stroke="#333" stroke-width="0.7" />
<line x1="211.30" y1="306.80" x2="211.30" y2="322.20" stroke="#333" stroke-width="0.7" />
<line x1="218.50" y1="306.80" x2="218.50" y2="322.20" stroke="#333" stroke-width="0.7" />
<line x1="220.20" y1="306.80" x2="220.20" y2="322.20" stroke="#333" stroke-width="0.7" />
<line x1="224.50" y1="306.80" x2="224.50" y2="322.20" stroke="#333" stroke-width="0.7" />
<line x1="240.90" y1="306.80" x2="240.90" y2="322.20" stroke="#333" stroke-width="0.7" />
<line x1="243.80" y1="306.80" x2="243.80" y2="322.20" stroke="#333" stroke-width="0.7" />
<line x1="257.00" y1="306.80" x2="257.00" y2="322.20" stroke="#333" stroke-width="0.7" />
<line x1="259.40" y1="306.80" x2="259.40" y2="322.20" stroke="#333" stroke-width="0.7" />
<line x1="262.50" y1="306.80" x2="262.50" y2="322.20" stroke="#333" stroke-width="0.7" />
<defs><linearGradient id="rb" x1="0" x2="1"><stop offset="0" stop-color="#e8211c"/><stop offset="0.9" stop-color="#e8241e"/><stop offset="0.93" stop-color="#f0806a"/><stop offset="0.965" stop-color="#f2b0a0"/><stop offset="0.97" stop-color="#a9dbe4"/><stop offset="1" stop-color="#9fd4e0"/></linearGradient></defs>
<rect x="164.40" y="322.20" width="99.80" height="5.80" fill="url(#rb)" />
<line x1="163.80" y1="328.50" x2="163.80" y2="354.00" stroke="#1a1a1a" stroke-width="1.0" />
<line x1="163.30" y1="353.60" x2="264.50" y2="353.60" stroke="#1a1a1a" stroke-width="1.0" />
<line x1="264.30" y1="328.50" x2="264.30" y2="353.60" stroke="#bbb" stroke-width="0.4" />
<line x1="160.80" y1="334.35" x2="163.40" y2="334.35" stroke="#333" stroke-width="0.7" />
<text x="157.40" y="336.35" font-size="6.2" text-anchor="end" stroke="#2a2a2a" stroke-width="0.078" >5</text>
<line x1="160.80" y1="341.30" x2="163.40" y2="341.30" stroke="#333" stroke-width="0.7" />
<text x="157.40" y="343.30" font-size="6.2" text-anchor="end" stroke="#2a2a2a" stroke-width="0.078" >0</text>
<line x1="160.80" y1="348.25" x2="163.40" y2="348.25" stroke="#333" stroke-width="0.7" />
<text x="157.40" y="350.25" font-size="6.2" text-anchor="end" stroke="#2a2a2a" stroke-width="0.078" >−5</text>
<path d="M164.2,339.6 C170,340.3 190,340.6 230,341 C250,341.2 258,341.5 262,342 L264.2,344" fill="none" stroke="#aaa" stroke-width="0.8"/>
<line x1="197.70" y1="353.90" x2="197.70" y2="356.30" stroke="#333" stroke-width="0.7" />
<text x="197.70" y="365.00" font-size="6.8" textLength="13.80" lengthAdjust="spacingAndGlyphs" text-anchor="middle" stroke="#2a2a2a" stroke-width="0.085" >5000</text>
<line x1="231.50" y1="353.90" x2="231.50" y2="356.30" stroke="#333" stroke-width="0.7" />
<text x="231.50" y="365.00" font-size="6.8" textLength="17.00" lengthAdjust="spacingAndGlyphs" text-anchor="middle" stroke="#2a2a2a" stroke-width="0.085" >10000</text>
<text x="179.00" y="376.60" font-size="8.4" textLength="70.00" lengthAdjust="spacingAndGlyphs" stroke="#2a2a2a" stroke-width="0.105" >Rank in ordered dataset</text>
<text x="140.70" y="378.40" font-size="8.3" textLength="51.80" lengthAdjust="spacingAndGlyphs" stroke="#2a2a2a" stroke-width="0.104" transform="rotate(-90 140.70 378.40)" >Ranked list metric</text>
<text x="140.70" y="311.50" font-size="8.3" textLength="71.00" lengthAdjust="spacingAndGlyphs" stroke="#2a2a2a" stroke-width="0.104" transform="rotate(-90 140.70 311.50)" >Running enrichment score</text>
<text x="315.00" y="207.00" font-size="11" font-weight="bold" fill="#111" >F</text>
<text x="365.30" y="216.20" font-size="8.2" textLength="95.20" lengthAdjust="spacingAndGlyphs" stroke="#2a2a2a" stroke-width="0.102" >HUDEP2 cells CUT&amp;RUN</text>
<line x1="365.30" y1="217.40" x2="460.50" y2="217.40" stroke="#555" stroke-width="0.55" />
<text x="325.90" y="234.70" font-size="6.0" textLength="11.50" lengthAdjust="spacingAndGlyphs" stroke="#2a2a2a" stroke-width="0.075" >5 kb</text>
<path d="M324.4,236.0 V238.8 H339.5 V236.0" fill="none" stroke="#333" stroke-width="0.7"/>
<line x1="367.00" y1="231.30" x2="508.10" y2="231.30" stroke="#555" stroke-width="0.5" />
<rect x="367.00" y="226.90" width="2.00" height="9.20" fill="#111" rx="0.7"/>
<rect x="370.50" y="226.90" width="2.00" height="9.20" fill="#111" rx="0.7"/>
<rect x="416.60" y="226.90" width="1.80" height="9.20" fill="#111" />
<rect x="448.50" y="226.90" width="1.60" height="9.20" fill="#111" />
<rect x="451.20" y="226.90" width="1.50" height="9.20" fill="#111" />
<rect x="466.50" y="226.90" width="1.50" height="9.20" fill="#111" />
<rect x="481.30" y="226.90" width="1.30" height="9.20" fill="#111" />
<rect x="483.80" y="226.90" width="1.30" height="9.20" fill="#111" />
<rect x="486.30" y="226.90" width="1.30" height="9.20" fill="#111" />
<rect x="488.80" y="226.90" width="1.30" height="9.20" fill="#111" />
<rect x="491.30" y="226.90" width="1.30" height="9.20" fill="#111" />
<rect x="493.30" y="226.90" width="1.00" height="9.20" fill="#111" />
<rect x="498.20" y="226.90" width="1.80" height="9.20" fill="#111" />
<rect x="499.80" y="228.60" width="8.30" height="5.60" fill="#111" />
<path d="M377.2,230.4 L378.6,231.3 L377.2,232.2" fill="none" stroke="#333" stroke-width="0.65"/>
<path d="M390.2,230.4 L391.6,231.3 L390.2,232.2" fill="none" stroke="#333" stroke-width="0.65"/>
<path d="M425.7,230.4 L427.1,231.3 L425.7,232.2" fill="none" stroke="#333" stroke-width="0.65"/>
<path d="M441.2,230.4 L442.6,231.3 L441.2,232.2" fill="none" stroke="#333" stroke-width="0.65"/>
<path d="M459.2,230.4 L460.6,231.3 L459.2,232.2" fill="none" stroke="#333" stroke-width="0.65"/>
<path d="M475.2,230.4 L476.6,231.3 L475.2,232.2" fill="none" stroke="#333" stroke-width="0.65"/>
<text x="367.00" y="244.50" font-size="6.0" textLength="22.20" lengthAdjust="spacingAndGlyphs" font-style="italic" stroke="#2a2a2a" stroke-width="0.075" >IGF2BP1</text>
<text transform="translate(316.6 281.6) rotate(-90)" font-size="5.0" fill="#5c5cb0" textLength="28" lengthAdjust="spacingAndGlyphs">H3K27me3</text>
<text transform="translate(316.6 314.6) rotate(-90)" font-size="5.0" fill="#5cba88" textLength="25" lengthAdjust="spacingAndGlyphs">H3K4me3</text>
<line x1="321.60" y1="253.40" x2="321.60" y2="281.60" stroke="#2a2a7e" stroke-width="0.8" />
<line x1="321.60" y1="287.00" x2="321.60" y2="315.60" stroke="#1c9a50" stroke-width="0.8" />
<text x="323.40" y="257.80" font-size="6.0" textLength="17.40" lengthAdjust="spacingAndGlyphs" fill="#333" stroke="#333" stroke-width="0.075" >sgNeg</text>
<path d="M324.6,265.3 L324.6,264.9 L325.3,265.0 L326.0,265.1 L326.7,265.3 L327.4,265.0 L328.1,265.0 L328.8,265.1 L329.5,265.0 L330.2,265.3 L330.9,264.4 L331.6,265.3 L332.3,265.3 L333.0,265.2 L333.7,265.0 L334.4,264.8 L335.1,262.9 L335.8,261.5 L336.5,261.4 L337.2,265.1 L337.9,265.3 L338.6,265.2 L339.3,265.1 L340.0,265.3 L340.7,265.1 L341.4,265.2 L342.1,265.1 L342.8,265.0 L343.5,265.3 L344.2,261.7 L344.9,261.7 L345.6,260.4 L346.3,259.1 L347.0,260.1 L347.7,265.2 L348.4,264.5 L349.1,265.1 L349.8,265.3 L350.5,264.7 L351.2,265.3 L351.9,265.2 L352.6,265.3 L353.3,265.3 L354.0,265.2 L354.7,265.2 L355.4,265.1 L356.1,265.1 L356.8,258.3 L357.5,260.1 L358.2,259.1 L358.9,259.5 L359.6,258.6 L360.3,258.0 L361.0,258.8 L361.7,260.1 L362.4,257.3 L363.1,257.3 L363.8,257.7 L364.5,258.8 L365.2,258.2 L365.9,256.9 L366.6,258.7 L367.3,260.6 L368.0,260.4 L368.7,258.5 L369.4,261.4 L370.1,257.9 L370.8,257.4 L371.5,260.0 L372.2,258.1 L372.9,258.9 L373.6,257.7 L374.3,257.0 L375.0,259.8 L375.7,259.0 L376.4,263.0 L377.1,262.9 L377.8,262.3 L378.5,263.0 L379.2,263.0 L379.9,262.3 L380.6,264.9 L381.3,265.3 L382.0,265.3 L382.7,265.2 L383.4,265.2 L384.1,265.2 L384.8,258.8 L385.5,257.1 L386.2,256.8 L386.9,258.7 L387.6,258.9 L388.3,255.9 L389.0,258.2 L389.7,259.1 L390.4,261.1 L391.1,259.6 L391.8,261.7 L392.5,259.8 L393.2,260.4 L393.9,261.0 L394.6,261.8 L395.3,261.8 L396.0,264.6 L396.7,265.1 L397.4,264.8 L398.1,265.1 L398.8,265.2 L399.5,265.3 L400.2,265.1 L400.9,265.2 L401.6,265.0 L402.3,265.0 L403.0,264.8 L403.7,265.2 L404.4,264.7 L405.1,265.1 L405.8,265.3 L406.5,262.6 L407.2,262.2 L407.9,263.1 L408.6,262.0 L409.3,262.1 L410.0,262.1 L410.7,261.6 L411.4,261.6 L412.1,262.0 L412.8,261.7 L413.5,261.9 L414.2,264.8 L414.9,265.1 L415.6,265.2 L416.3,265.1 L417.0,265.1 L417.7,265.0 L418.4,265.3 L419.1,262.3 L419.8,261.0 L420.5,259.4 L421.2,257.9 L421.9,256.8 L422.6,265.2 L423.3,264.7 L424.0,264.7 L424.7,264.7 L425.4,265.2 L426.1,265.3 L426.8,265.2 L427.5,264.9 L428.2,265.1 L428.9,264.6 L429.6,265.1 L430.3,265.1 L431.0,265.1 L431.7,265.3 L432.4,265.2 L433.1,265.1 L433.8,265.1 L434.5,265.1 L435.2,265.1 L435.9,265.2 L436.6,265.1 L437.3,265.1 L438.0,264.8 L438.7,264.7 L439.4,264.8 L440.1,265.3 L440.8,265.2 L441.5,265.1 L442.2,265.2 L442.9,265.1 L443.6,264.6 L444.3,265.2 L445.0,264.8 L445.7,264.9 L446.4,264.8 L447.1,265.2 L447.8,265.2 L448.5,265.0 L449.2,265.0 L449.9,265.1 L450.6,265.1 L451.3,265.0 L452.0,265.2 L452.7,265.1 L453.4,264.7 L454.1,265.2 L454.8,264.8 L455.5,265.0 L456.2,265.2 L456.9,265.2 L457.6,265.1 L458.3,265.3 L459.0,265.0 L459.7,265.2 L460.4,265.3 L461.1,264.6 L461.8,265.1 L462.5,265.0 L463.2,265.2 L463.9,265.2 L464.6,265.2 L465.3,265.1 L466.0,265.0 L466.7,265.2 L467.4,265.0 L468.1,265.1 L468.8,264.9 L469.5,265.1 L470.2,265.1 L470.9,265.1 L471.6,265.1 L472.3,264.4 L473.0,265.3 L473.7,265.3 L474.4,265.2 L475.1,264.6 L475.8,263.5 L476.5,265.2 L477.2,264.6 L477.9,265.3 L478.6,265.1 L479.3,265.3 L480.0,265.3 L480.7,265.1 L481.4,265.1 L482.1,265.1 L482.8,265.2 L483.5,264.8 L484.2,265.3 L484.9,265.2 L485.6,265.2 L486.3,265.1 L487.0,265.2 L487.7,264.7 L488.4,265.2 L489.1,265.1 L489.8,264.5 L490.5,265.0 L491.2,264.5 L491.9,265.2 L492.6,265.3 L493.3,263.3 L494.0,265.3 L494.7,264.0 L495.4,265.3 L496.1,265.0 L496.8,265.0 L497.5,265.3 L498.2,265.1 L498.9,265.0 L499.6,263.0 L500.3,263.3 L501.0,263.0 L501.7,262.7 L502.4,262.3 L503.1,262.7 L503.8,263.2 L504.5,263.0 L505.2,263.2 L505.9,262.9 L506.6,262.5 L507.3,262.4 L508.0,263.0 L508.7,265.2 L509.4,265.3 L509.6,265.3 Z" fill="#2a2a7e" stroke="#2a2a7e" stroke-width="0.3"/>
<line x1="324.60" y1="265.30" x2="509.60" y2="265.30" stroke="#2a2a7e" stroke-width="0.7" />
<text x="489.60" y="254.80" font-size="5.8" textLength="24.00" lengthAdjust="spacingAndGlyphs" fill="#333" stroke="#333" stroke-width="0.072" >[0 - 0.75]</text>
<text x="323.40" y="272.70" font-size="6.0" textLength="66.00" lengthAdjust="spacingAndGlyphs" fill="#333" stroke="#333" stroke-width="0.075" >sg(CBX2 + CBX4 + CBX8)</text>
<path d="M324.6,282.0 L324.6,281.9 L325.3,281.8 L326.0,281.8 L326.7,281.8 L327.4,281.8 L328.1,281.9 L328.8,281.8 L329.5,282.0 L330.2,281.4 L330.9,281.8 L331.6,281.8 L332.3,281.9 L333.0,282.0 L333.7,281.6 L334.4,281.8 L335.1,282.0 L335.8,282.0 L336.5,281.4 L337.2,281.2 L337.9,281.8 L338.6,281.7 L339.3,281.8 L340.0,281.7 L340.7,281.9 L341.4,281.8 L342.1,282.0 L342.8,281.9 L343.5,281.9 L344.2,281.8 L344.9,281.8 L345.6,281.3 L346.3,281.8 L347.0,281.8 L347.7,281.4 L348.4,281.8 L349.1,281.9 L349.8,282.0 L350.5,281.0 L351.2,280.9 L351.9,281.2 L352.6,281.1 L353.3,280.9 L354.0,281.0 L354.7,281.2 L355.4,280.9 L356.1,281.6 L356.8,281.9 L357.5,281.8 L358.2,281.9 L358.9,282.0 L359.6,281.8 L360.3,281.2 L361.0,281.2 L361.7,281.2 L362.4,281.8 L363.1,281.9 L363.8,281.9 L364.5,281.3 L365.2,281.8 L365.9,281.9 L366.6,281.9 L367.3,282.0 L368.0,281.6 L368.7,281.4 L369.4,281.1 L370.1,281.2 L370.8,281.1 L371.5,281.3 L372.2,281.7 L372.9,281.9 L373.6,281.9 L374.3,281.9 L375.0,281.1 L375.7,281.9 L376.4,281.7 L377.1,282.0 L377.8,281.9 L378.5,281.3 L379.2,280.2 L379.9,281.5 L380.6,281.9 L381.3,282.0 L382.0,281.9 L382.7,281.9 L383.4,281.9 L384.1,281.8 L384.8,281.9 L385.5,281.3 L386.2,280.9 L386.9,280.7 L387.6,280.8 L388.3,281.1 L389.0,280.9 L389.7,280.6 L390.4,281.0 L391.1,281.2 L391.8,280.9 L392.5,281.9 L393.2,281.8 L393.9,281.9 L394.6,282.0 L395.3,281.8 L396.0,281.9 L396.7,281.9 L397.4,281.9 L398.1,281.9 L398.8,281.4 L399.5,281.9 L400.2,281.8 L400.9,281.4 L401.6,281.9 L402.3,282.0 L403.0,281.1 L403.7,281.7 L404.4,281.3 L405.1,281.1 L405.8,281.1 L406.5,280.8 L407.2,280.9 L407.9,281.2 L408.6,280.9 L409.3,280.9 L410.0,280.8 L410.7,281.0 L411.4,282.0 L412.1,281.8 L412.8,280.0 L413.5,281.7 L414.2,281.8 L414.9,281.8 L415.6,281.8 L416.3,281.2 L417.0,281.3 L417.7,281.5 L418.4,281.8 L419.1,281.7 L419.8,281.5 L420.5,282.0 L421.2,281.9 L421.9,282.0 L422.6,281.8 L423.3,281.8 L424.0,282.0 L424.7,281.8 L425.4,282.0 L426.1,281.8 L426.8,281.7 L427.5,281.4 L428.2,282.0 L428.9,281.9 L429.6,281.8 L430.3,281.8 L431.0,281.9 L431.7,282.0 L432.4,281.9 L433.1,281.8 L433.8,281.9 L434.5,281.3 L435.2,281.8 L435.9,281.9 L436.6,282.0 L437.3,282.0 L438.0,281.9 L438.7,281.9 L439.4,282.0 L440.1,281.9 L440.8,281.8 L441.5,281.3 L442.2,281.9 L442.9,281.8 L443.6,281.3 L444.3,281.9 L445.0,281.5 L445.7,281.8 L446.4,281.4 L447.1,281.8 L447.8,281.5 L448.5,281.9 L449.2,281.9 L449.9,281.5 L450.6,281.9 L451.3,281.9 L452.0,281.9 L452.7,281.2 L453.4,281.8 L454.1,281.9 L454.8,281.9 L455.5,282.0 L456.2,282.0 L456.9,281.9 L457.6,281.9 L458.3,281.7 L459.0,281.1 L459.7,281.8 L460.4,281.2 L461.1,281.9 L461.8,281.8 L462.5,281.9 L463.2,282.0 L463.9,282.0 L464.6,281.7 L465.3,281.8 L466.0,281.8 L466.7,281.9 L467.4,281.1 L468.1,281.9 L468.8,281.8 L469.5,281.6 L470.2,281.9 L470.9,281.9 L471.6,281.9 L472.3,281.9 L473.0,281.9 L473.7,281.9 L474.4,281.3 L475.1,281.8 L475.8,281.9 L476.5,281.7 L477.2,281.8 L477.9,281.7 L478.6,281.7 L479.3,281.9 L480.0,281.8 L480.7,282.0 L481.4,282.0 L482.1,281.9 L482.8,281.6 L483.5,281.8 L484.2,281.8 L484.9,281.6 L485.6,281.8 L486.3,281.9 L487.0,282.0 L487.7,281.8 L488.4,281.8 L489.1,281.9 L489.8,281.8 L490.5,281.8 L491.2,281.3 L491.9,281.9 L492.6,281.5 L493.3,281.8 L494.0,281.8 L494.7,281.5 L495.4,280.6 L496.1,280.5 L496.8,280.6 L497.5,280.9 L498.2,280.9 L498.9,280.8 L499.6,281.1 L500.3,280.5 L501.0,280.8 L501.7,281.6 L502.4,281.7 L503.1,281.3 L503.8,281.7 L504.5,281.8 L505.2,281.9 L505.9,281.9 L506.6,281.8 L507.3,281.9 L508.0,281.8 L508.5,282.0 Z" fill="#2a2a7e" stroke="#2a2a7e" stroke-width="0.3"/>
<line x1="324.60" y1="282.00" x2="508.50" y2="282.00" stroke="#2a2a7e" stroke-width="0.7" />
<text x="489.60" y="271.00" font-size="5.8" textLength="24.00" lengthAdjust="spacingAndGlyphs" fill="#333" stroke="#333" stroke-width="0.072" >[0 - 0.75]</text>
<text x="323.40" y="290.10" font-size="6.0" textLength="17.40" lengthAdjust="spacingAndGlyphs" fill="#333" stroke="#333" stroke-width="0.075" >sgNeg</text>
<path d="M324.6,298.6 L324.6,298.6 L325.3,298.5 L326.0,298.6 L326.7,298.6 L327.4,298.6 L328.1,298.6 L328.8,298.4 L329.5,298.5 L330.2,298.6 L330.9,298.6 L331.6,298.6 L332.3,298.6 L333.0,298.5 L333.7,298.6 L334.4,298.6 L335.1,298.5 L335.8,298.6 L336.5,298.6 L337.2,298.6 L337.9,298.5 L338.6,298.6 L339.3,298.6 L340.0,298.5 L340.7,298.5 L341.4,298.6 L342.1,298.6 L342.8,298.6 L343.5,298.6 L344.2,298.6 L344.9,298.6 L345.6,298.5 L346.3,298.6 L347.0,298.6 L347.7,298.6 L348.4,298.5 L349.1,298.6 L349.8,298.6 L350.5,298.5 L351.2,298.6 L351.9,298.5 L352.6,298.4 L353.3,298.6 L354.0,298.5 L354.7,298.5 L355.4,298.4 L356.1,298.2 L356.8,298.2 L357.5,298.0 L358.2,297.9 L358.9,297.7 L359.6,297.3 L360.3,297.1 L361.0,297.0 L361.7,297.4 L362.4,297.2 L363.1,296.8 L363.8,296.8 L364.5,296.9 L365.2,296.5 L365.9,296.3 L366.6,296.9 L367.3,296.3 L368.0,296.4 L368.7,296.3 L369.4,297.0 L370.1,296.3 L370.8,296.3 L371.5,296.8 L372.2,296.8 L372.9,296.7 L373.6,296.2 L374.3,296.7 L375.0,296.7 L375.7,296.3 L376.4,296.7 L377.1,296.3 L377.8,296.7 L378.5,296.5 L379.2,297.1 L379.9,296.7 L380.6,296.5 L381.3,296.9 L382.0,297.0 L382.7,297.2 L383.4,297.0 L384.1,296.9 L384.8,297.2 L385.5,297.2 L386.2,297.4 L386.9,297.7 L387.6,298.0 L388.3,298.1 L389.0,298.2 L389.7,298.4 L390.4,298.4 L391.1,298.5 L391.8,298.5 L392.5,298.5 L393.2,298.6 L393.9,298.6 L394.6,298.6 L395.3,298.6 L396.0,298.6 L396.7,298.6 L397.4,298.5 L398.1,298.4 L398.8,298.6 L399.5,298.6 L400.2,298.4 L400.9,298.5 L401.6,298.6 L402.3,298.6 L403.0,298.6 L403.7,298.6 L404.4,298.6 L405.1,298.6 L405.8,298.5 L406.5,298.6 L407.2,298.5 L407.9,298.4 L408.6,298.6 L409.3,298.6 L410.0,298.6 L410.7,298.5 L411.4,298.6 L412.1,298.6 L412.8,298.5 L413.5,298.6 L414.2,298.5 L414.9,298.5 L415.6,298.6 L416.3,298.6 L417.0,298.6 L417.7,298.5 L418.4,298.5 L419.1,298.5 L419.8,298.6 L420.5,298.6 L421.2,298.6 L421.9,298.6 L422.6,298.5 L423.3,298.5 L424.0,298.6 L424.7,298.6 L425.4,298.6 L426.1,298.5 L426.8,298.6 L427.5,298.6 L428.2,298.5 L428.9,298.4 L429.6,298.5 L430.3,298.6 L431.0,298.6 L431.7,298.5 L432.4,298.6 L433.1,298.6 L433.8,298.6 L434.5,298.4 L435.2,298.5 L435.9,298.6 L436.6,298.6 L437.3,298.6 L438.0,298.6 L438.7,298.6 L439.4,298.6 L440.1,298.6 L440.8,298.5 L441.5,298.6 L442.2,298.6 L442.9,298.5 L443.6,298.5 L444.3,298.4 L445.0,298.5 L445.7,298.6 L446.4,298.5 L447.1,298.6 L447.8,298.6 L448.5,298.6 L449.2,298.6 L449.9,298.6 L450.6,298.5 L451.3,298.6 L452.0,298.5 L452.7,298.6 L453.4,298.5 L454.1,298.6 L454.8,298.5 L455.5,298.5 L456.2,298.6 L456.9,298.6 L457.6,298.5 L458.3,298.6 L459.0,298.6 L459.7,298.6 L460.4,298.6 L461.1,298.6 L461.8,298.6 L462.5,298.5 L463.2,298.6 L463.9,298.6 L464.6,298.6 L465.3,298.6 L466.0,298.6 L466.7,298.6 L467.4,298.6 L468.1,298.5 L468.8,298.6 L469.5,298.6 L470.2,298.6 L470.9,298.6 L471.6,298.4 L472.3,298.6 L473.0,298.5 L473.7,298.6 L474.4,298.6 L475.1,298.5 L475.8,298.6 L476.5,298.6 L477.2,298.5 L477.9,298.5 L478.6,298.6 L479.3,298.4 L480.0,298.6 L480.7,298.5 L481.4,298.4 L482.1,298.6 L482.8,298.6 L483.5,298.6 L484.2,298.6 L484.9,298.5 L485.6,298.6 L486.3,298.6 L487.0,298.6 L487.7,298.6 L488.4,298.6 L489.1,298.6 L489.8,298.4 L490.5,298.6 L491.2,298.6 L491.9,298.6 L492.6,298.5 L493.3,298.6 L494.0,298.6 L494.7,298.4 L495.4,298.5 L496.1,298.5 L496.8,298.6 L497.5,298.6 L498.2,298.6 L498.9,298.6 L499.6,298.6 L500.3,298.5 L501.0,298.6 L501.7,298.6 L502.4,298.6 L503.1,298.6 L503.8,298.6 L504.5,298.5 L505.2,298.6 L505.9,298.5 L506.6,298.6 L507.3,298.6 L508.0,298.6 L508.5,298.6 Z" fill="#1c9a50" stroke="#1c9a50" stroke-width="0.3"/>
<line x1="324.60" y1="298.60" x2="508.50" y2="298.60" stroke="#1c9a50" stroke-width="0.7" />
<text x="489.60" y="287.70" font-size="5.8" textLength="24.00" lengthAdjust="spacingAndGlyphs" fill="#333" stroke="#333" stroke-width="0.072" >[0 - 3.14]</text>
<text x="323.40" y="305.70" font-size="6.0" textLength="66.00" lengthAdjust="spacingAndGlyphs" fill="#333" stroke="#333" stroke-width="0.075" >sg(CBX2 + CBX4 + CBX8)</text>
<path d="M324.6,315.4 L324.6,315.4 L325.3,315.4 L326.0,315.3 L326.7,315.4 L327.4,315.4 L328.1,315.4 L328.8,315.3 L329.5,315.3 L330.2,315.3 L330.9,315.4 L331.6,315.4 L332.3,315.4 L333.0,315.4 L333.7,315.4 L334.4,315.4 L335.1,315.2 L335.8,315.2 L336.5,315.2 L337.2,315.4 L337.9,315.4 L338.6,315.4 L339.3,315.3 L340.0,315.4 L340.7,315.4 L341.4,315.3 L342.1,315.4 L342.8,315.4 L343.5,315.4 L344.2,315.4 L344.9,315.4 L345.6,315.4 L346.3,315.4 L347.0,315.2 L347.7,315.4 L348.4,315.3 L349.1,315.3 L349.8,315.3 L350.5,315.4 L351.2,315.4 L351.9,315.4 L352.6,315.4 L353.3,315.3 L354.0,315.2 L354.7,315.0 L355.4,314.8 L356.1,314.6 L356.8,314.1 L357.5,313.3 L358.2,313.1 L358.9,311.6 L359.6,310.8 L360.3,310.1 L361.0,309.2 L361.7,310.4 L362.4,308.5 L363.1,308.2 L363.8,308.3 L364.5,307.6 L365.2,309.0 L365.9,306.8 L366.6,307.0 L367.3,308.1 L368.0,308.5 L368.7,307.5 L369.4,306.0 L370.1,307.8 L370.8,308.4 L371.5,306.0 L372.2,306.8 L372.9,306.4 L373.6,307.9 L374.3,307.4 L375.0,307.9 L375.7,306.4 L376.4,307.3 L377.1,307.5 L377.8,308.2 L378.5,307.2 L379.2,307.2 L379.9,306.3 L380.6,307.6 L381.3,306.8 L382.0,309.0 L382.7,309.0 L383.4,308.5 L384.1,308.2 L384.8,309.5 L385.5,309.7 L386.2,310.0 L386.9,310.7 L387.6,311.8 L388.3,312.8 L389.0,313.5 L389.7,314.0 L390.4,314.5 L391.1,314.7 L391.8,315.1 L392.5,315.2 L393.2,315.3 L393.9,315.4 L394.6,315.3 L395.3,315.3 L396.0,315.4 L396.7,315.4 L397.4,315.2 L398.1,315.3 L398.8,315.4 L399.5,315.4 L400.2,315.4 L400.9,315.3 L401.6,315.4 L402.3,315.3 L403.0,315.4 L403.7,315.4 L404.4,315.3 L405.1,315.3 L405.8,315.4 L406.5,315.4 L407.2,315.4 L407.9,315.3 L408.6,315.4 L409.3,315.4 L410.0,315.4 L410.7,315.4 L411.4,315.3 L412.1,315.4 L412.8,315.4 L413.5,315.4 L414.2,315.4 L414.9,315.4 L415.6,315.4 L416.3,315.4 L417.0,315.3 L417.7,315.4 L418.4,315.3 L419.1,315.4 L419.8,315.4 L420.5,315.4 L421.2,315.3 L421.9,315.3 L422.6,315.4 L423.3,315.4 L424.0,315.3 L424.7,315.3 L425.4,315.4 L426.1,315.3 L426.8,315.4 L427.5,315.2 L428.2,315.2 L428.9,315.3 L429.6,315.3 L430.3,315.4 L431.0,315.4 L431.7,315.4 L432.4,315.4 L433.1,315.3 L433.8,315.4 L434.5,315.3 L435.2,315.3 L435.9,315.4 L436.6,315.2 L437.3,315.4 L438.0,315.2 L438.7,315.3 L439.4,315.3 L440.1,315.4 L440.8,315.3 L441.5,315.3 L442.2,315.4 L442.9,315.4 L443.6,315.4 L444.3,315.4 L445.0,315.4 L445.7,315.2 L446.4,315.4 L447.1,315.3 L447.8,315.4 L448.5,315.4 L449.2,315.4 L449.9,315.4 L450.6,315.4 L451.3,315.3 L452.0,315.3 L452.7,315.3 L453.4,315.4 L454.1,315.4 L454.8,315.3 L455.5,315.4 L456.2,315.2 L456.9,315.4 L457.6,315.4 L458.3,315.3 L459.0,315.4 L459.7,315.4 L460.4,315.4 L461.1,315.4 L461.8,315.3 L462.5,315.4 L463.2,315.4 L463.9,315.2 L464.6,315.3 L465.3,315.4 L466.0,315.4 L466.7,315.4 L467.4,315.4 L468.1,315.3 L468.8,315.4 L469.5,315.4 L470.2,315.3 L470.9,315.3 L471.6,315.4 L472.3,315.2 L473.0,315.4 L473.7,315.4 L474.4,315.4 L475.1,315.4 L475.8,315.3 L476.5,315.4 L477.2,315.4 L477.9,315.4 L478.6,315.4 L479.3,315.2 L480.0,315.4 L480.7,315.4 L481.4,315.3 L482.1,315.4 L482.8,315.4 L483.5,315.4 L484.2,315.3 L484.9,315.4 L485.6,315.4 L486.3,315.4 L487.0,315.4 L487.7,315.4 L488.4,315.3 L489.1,315.4 L489.8,315.4 L490.5,315.4 L491.2,315.4 L491.9,315.3 L492.6,315.4 L493.3,315.3 L494.0,315.3 L494.7,315.4 L495.4,315.4 L496.1,315.4 L496.8,315.3 L497.5,315.4 L498.2,315.4 L498.9,315.4 L499.6,315.3 L500.3,315.3 L501.0,315.4 L501.7,315.4 L502.4,315.3 L503.1,315.3 L503.8,315.4 L504.5,315.4 L505.2,315.2 L505.9,315.4 L506.6,315.2 L507.3,315.4 L508.0,315.3 L508.5,315.4 Z" fill="#1c9a50" stroke="#1c9a50" stroke-width="0.3"/>
<line x1="324.60" y1="315.40" x2="508.50" y2="315.40" stroke="#1c9a50" stroke-width="0.7" />
<text x="489.60" y="304.50" font-size="5.8" textLength="24.00" lengthAdjust="spacingAndGlyphs" fill="#333" stroke="#333" stroke-width="0.072" >[0 - 3.14]</text>
<rect x="0.5" y="0.5" width="519" height="394" fill="none" stroke="#444" stroke-width="1.2"/>
</svg></div></body></html>
